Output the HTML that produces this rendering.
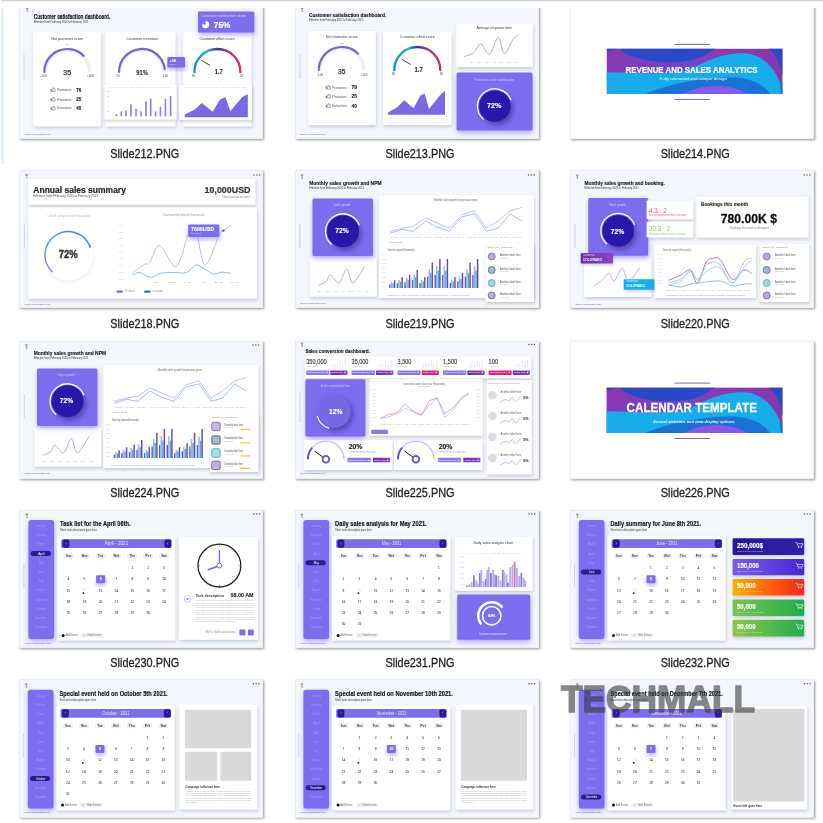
<!DOCTYPE html>
<html><head><meta charset="utf-8"><style>
html,body{margin:0;padding:0;width:823px;height:823px;overflow:hidden;background:#fff}
svg{display:block;font-family:"Liberation Sans",sans-serif}
</style></head><body>
<svg width="823" height="823" viewBox="0 0 823 823">
<rect x="0" y="0" width="823" height="823" fill="#fff"/>
<defs><filter id="ts" x="-5%" y="-5%" width="112%" height="115%"><feDropShadow dx="1.2" dy="1.2" stdDeviation="0.9" flood-color="#000" flood-opacity="0.38"/></filter><filter id="cs" x="-20%" y="-20%" width="140%" height="150%"><feDropShadow dx="0.6" dy="1.8" stdDeviation="1.6" flood-color="#505878" flood-opacity="0.28"/></filter><filter id="ps" x="-30%" y="-30%" width="160%" height="170%"><feDropShadow dx="0.5" dy="2.5" stdDeviation="2.6" flood-color="#7e6cee" flood-opacity="0.55"/></filter><filter id="ds" x="-40%" y="-40%" width="190%" height="190%"><feDropShadow dx="2.2" dy="2.8" stdDeviation="2.6" flood-color="#1a0a60" flood-opacity="0.5"/></filter><filter id="ls" x="-30%" y="-30%" width="160%" height="170%"><feDropShadow dx="0.5" dy="1.5" stdDeviation="1.8" flood-color="#505878" flood-opacity="0.13"/></filter><filter id="bl" x="-2%" y="-2%" width="104%" height="104%"><feGaussianBlur stdDeviation="0.4"/></filter><clipPath id="c212"><rect x="19" y="1" width="244" height="138"/></clipPath><clipPath id="c213"><rect x="295" y="1" width="244" height="138"/></clipPath><clipPath id="c214"><rect x="570" y="1" width="244" height="138"/></clipPath><clipPath id="c218"><rect x="19" y="170" width="244" height="138"/></clipPath><clipPath id="c219"><rect x="295" y="170" width="244" height="138"/></clipPath><clipPath id="c220"><rect x="570" y="170" width="244" height="138"/></clipPath><clipPath id="c224"><rect x="19" y="341" width="244" height="138"/></clipPath><clipPath id="c225"><rect x="295" y="341" width="244" height="138"/></clipPath><clipPath id="c226"><rect x="570" y="341" width="244" height="138"/></clipPath><clipPath id="c230"><rect x="19" y="510" width="244" height="138"/></clipPath><clipPath id="c231"><rect x="295" y="510" width="244" height="138"/></clipPath><clipPath id="c232"><rect x="570" y="510" width="244" height="138"/></clipPath><clipPath id="c233"><rect x="19" y="679.5" width="244" height="138"/></clipPath><clipPath id="c234"><rect x="295" y="679.5" width="244" height="138"/></clipPath><clipPath id="c235"><rect x="570" y="679.5" width="244" height="138"/></clipPath><linearGradient id="gEff" x1="0" y1="0" x2="1" y2="0"><stop offset="0" stop-color="#1a8cae"/><stop offset="0.3" stop-color="#25b3d0"/><stop offset="0.5" stop-color="#3b3480"/><stop offset="0.75" stop-color="#b03a86"/><stop offset="1" stop-color="#c23069"/></linearGradient><linearGradient id="gDon" x1="0" y1="1" x2="1" y2="0"><stop offset="0" stop-color="#b070c0"/><stop offset="0.5" stop-color="#40b0d0"/><stop offset="1" stop-color="#5a70e0"/></linearGradient><linearGradient id="gC1" x1="0" y1="0" x2="1" y2="0"><stop offset="0" stop-color="#2a1890"/><stop offset="1" stop-color="#3020b0"/></linearGradient><linearGradient id="gC2" x1="0" y1="0" x2="1" y2="0"><stop offset="0" stop-color="#7a5ce8"/><stop offset="1" stop-color="#4626d8"/></linearGradient><linearGradient id="gC3" x1="0" y1="0" x2="1" y2="0"><stop offset="0" stop-color="#f7b500"/><stop offset="0.55" stop-color="#ff5a08"/><stop offset="1" stop-color="#f22a1a"/></linearGradient><linearGradient id="gC4" x1="0" y1="0" x2="1" y2="0"><stop offset="0" stop-color="#78c450"/><stop offset="1" stop-color="#24ac4c"/></linearGradient><linearGradient id="gC5" x1="0" y1="0" x2="1" y2="0"><stop offset="0" stop-color="#8cc846"/><stop offset="1" stop-color="#20ac50"/></linearGradient><linearGradient id="gBadgeD" x1="0" y1="0" x2="1" y2="0"><stop offset="0" stop-color="#6a2ea8"/><stop offset="1" stop-color="#8a48c0"/></linearGradient></defs><rect x="19.00" y="1.00" width="244.00" height="138.00" rx="0" fill="#f3f6fa" filter="url(#ts)"/><rect x="19.25" y="1.25" width="243.50" height="137.50" rx="0" fill="none" stroke="#e2e4ea" stroke-width="0.5"/><g clip-path="url(#c212)"><g filter="url(#bl)"><rect x="26.00" y="7.50" width="2.20" height="2.20" rx="0" fill="#9a9aaa" /><rect x="26.70" y="10.50" width="1.20" height="1.40" rx="0" fill="#777" /><text x="33.80" y="18.60" font-size="6.40" font-weight="bold" fill="#141414" stroke="#141414" stroke-width="0.14" textLength="76.50" lengthAdjust="spacingAndGlyphs" >Customer satisfaction dashboard.</text><text x="33.80" y="23.10" font-size="2.70" fill="#333" textLength="54.70" lengthAdjust="spacingAndGlyphs" >Effective from February 2020 to February 2021</text><line x1="24.00" y1="54.60" x2="24.00" y2="79.50" stroke="#7c82a0" stroke-width="0.7" stroke-dasharray="1.2 0.5" opacity="0.6"/><text x="24.70" y="134.74" font-size="2.44" fill="#5b5f80" textLength="25.50" lengthAdjust="spacingAndGlyphs" >www.yourwebsite.com</text><rect x="33.20" y="32.20" width="67.60" height="94.10" rx="0.8" fill="#fff" filter="url(#cs)"/><rect x="105.50" y="32.20" width="70.00" height="94.10" rx="0.8" fill="#fff" filter="url(#cs)"/><rect x="183.20" y="32.20" width="68.40" height="94.10" rx="0.8" fill="#fff" filter="url(#cs)"/><rect x="198.00" y="11.50" width="56.30" height="21.10" rx="1.2" fill="#7e6cee" filter="url(#ps)"/><text x="201.30" y="16.89" font-size="3.31" fill="#d9d2ff" textLength="44.70" lengthAdjust="spacingAndGlyphs" >Customer satisfaction score</text><circle cx="205.60" cy="24.60" r="3.60" fill="#fff" stroke="none" stroke-width="1" /><path d="M205.6,24.6 L205.6,20.8 A3.8,3.8 0 0 0 201.8,24.6 Z" fill="#7e6cee" stroke="none" stroke-width="1" /><text x="213.80" y="27.90" font-size="8.72" font-weight="bold" fill="#fff" stroke="#fff" stroke-width="0.19" textLength="16.50" lengthAdjust="spacingAndGlyphs" >75%</text><text x="51.20" y="39.50" font-size="3.05" fill="#3a3a50" textLength="32.00" lengthAdjust="spacingAndGlyphs" >Net promoter score</text><path d="M45.10,72.00 A22.20,22.20 0 0 1 89.50,72.00" fill="none" stroke="#efeff1" stroke-width="3.8" /><path d="M44.30,72.00 A23.00,23.00 0 0 1 83.56,55.74" fill="none" stroke="#7665d0" stroke-width="2.2" stroke-linecap="round"/><text x="65.84" y="44.74" font-size="2.44" fill="#666" >40</text><text x="63.32" y="74.60" font-size="6.98" fill="#333" stroke="#333" stroke-width="0.25" >35</text><text x="40.36" y="77.18" font-size="3.14" fill="#444" >-100</text><text x="86.96" y="77.18" font-size="3.14" fill="#444" >+100</text><rect x="50.60" y="89.10" width="1.00" height="2.40" rx="0" fill="#555" /><path d="M52,91.5 l0,-2.2 l1.1,-1.6 l0.7,0.2 l-0.2,1.2 l1.5,0 l0,2.6 z" fill="none" stroke="#555" stroke-width="0.5" /><text x="56.90" y="91.19" font-size="3.31" fill="#555" textLength="14.60" lengthAdjust="spacingAndGlyphs" >Promoters</text><text x="76.30" y="91.80" font-size="4.80" font-weight="bold" fill="#222" stroke="#222" stroke-width="0.11" textLength="5.00" lengthAdjust="spacingAndGlyphs" >76</text><rect x="50.60" y="98.60" width="1.00" height="2.40" rx="0" fill="#555" /><path d="M52,101.0 l0,-2.2 l1.1,-1.6 l0.7,0.2 l-0.2,1.2 l1.5,0 l0,2.6 z" fill="none" stroke="#555" stroke-width="0.5" /><text x="56.90" y="100.69" font-size="3.31" fill="#555" textLength="14.60" lengthAdjust="spacingAndGlyphs" >Passive</text><text x="76.30" y="101.30" font-size="4.80" font-weight="bold" fill="#222" stroke="#222" stroke-width="0.11" textLength="5.00" lengthAdjust="spacingAndGlyphs" >25</text><rect x="50.60" y="107.40" width="1.00" height="2.40" rx="0" fill="#555" /><path d="M52,109.8 l0,-2.2 l1.1,-1.6 l0.7,0.2 l-0.2,1.2 l1.5,0 l0,2.6 z" fill="none" stroke="#555" stroke-width="0.5" /><text x="56.90" y="109.49" font-size="3.31" fill="#555" textLength="14.60" lengthAdjust="spacingAndGlyphs" >Detractors</text><text x="76.30" y="110.10" font-size="4.80" font-weight="bold" fill="#222" stroke="#222" stroke-width="0.11" textLength="5.00" lengthAdjust="spacingAndGlyphs" >40</text><text x="126.20" y="39.50" font-size="3.05" fill="#3a3a50" textLength="31.60" lengthAdjust="spacingAndGlyphs" >Customer retention</text><path d="M119.80,72.00 A22.20,22.20 0 0 1 164.20,72.00" fill="none" stroke="#efeff1" stroke-width="3.8" /><path d="M119.00,72.00 A23.00,23.00 0 0 1 164.78,68.80" fill="none" stroke="#7665d0" stroke-width="2.2" stroke-linecap="round"/><text x="136.25" y="74.80" font-size="6.40" font-weight="bold" fill="#333" stroke="#333" stroke-width="0.14" textLength="11.50" lengthAdjust="spacingAndGlyphs" >91%</text><text x="116.35" y="77.27" font-size="2.97" fill="#444" >50</text><text x="163.03" y="77.27" font-size="2.97" fill="#444" >100</text><rect x="167.40" y="57.00" width="17.60" height="10.40" rx="1.2" fill="#7e6cee" filter="url(#ps)"/><text x="169.50" y="62.00" font-size="3.78" font-weight="bold" fill="#fff" textLength="6.50" lengthAdjust="spacingAndGlyphs" >+98</text><text x="169.50" y="65.12" font-size="2.09" fill="#d9d2ff" textLength="6.00" lengthAdjust="spacingAndGlyphs" >retained</text><rect x="104.40" y="84.60" width="72.20" height="35.00" rx="0.8" fill="#fff" filter="url(#cs)"/><text x="110.00" y="88.22" font-size="2.09" fill="#c8c8d0" textLength="60.00" lengthAdjust="spacingAndGlyphs" >Jan  Feb  Mar  Apr  May  Jun  Jul  Aug  Sep  Oct  Nov  Dec</text><text x="107.00" y="91.50" font-size="1.74" fill="#c0c0c8" textLength="3.00" lengthAdjust="spacingAndGlyphs" >200</text><text x="107.00" y="96.70" font-size="1.74" fill="#c0c0c8" textLength="3.00" lengthAdjust="spacingAndGlyphs" >200</text><text x="107.00" y="101.90" font-size="1.74" fill="#c0c0c8" textLength="3.00" lengthAdjust="spacingAndGlyphs" >200</text><text x="107.00" y="106.90" font-size="1.74" fill="#c0c0c8" textLength="3.00" lengthAdjust="spacingAndGlyphs" >200</text><text x="107.00" y="112.10" font-size="1.74" fill="#c0c0c8" textLength="3.00" lengthAdjust="spacingAndGlyphs" >200</text><rect x="115.60" y="114.20" width="1.60" height="2.10" rx="0" fill="#8a7fd6" /><rect x="120.50" y="111.40" width="1.60" height="4.90" rx="0" fill="#8a7fd6" /><rect x="125.20" y="110.30" width="1.60" height="6.00" rx="0" fill="#8a7fd6" /><rect x="130.20" y="104.30" width="1.60" height="12.00" rx="0" fill="#8a7fd6" /><rect x="135.20" y="109.00" width="1.60" height="7.30" rx="0" fill="#8a7fd6" /><rect x="140.20" y="111.40" width="1.60" height="4.90" rx="0" fill="#8a7fd6" /><rect x="145.20" y="101.40" width="1.60" height="14.90" rx="0" fill="#8a7fd6" /><rect x="149.90" y="98.80" width="1.60" height="17.50" rx="0" fill="#8a7fd6" /><rect x="154.80" y="111.40" width="1.60" height="4.90" rx="0" fill="#8a7fd6" /><rect x="159.60" y="106.50" width="1.60" height="9.80" rx="0" fill="#8a7fd6" /><rect x="164.60" y="98.80" width="1.60" height="17.50" rx="0" fill="#8a7fd6" /><rect x="169.80" y="96.10" width="1.60" height="20.20" rx="0" fill="#8a7fd6" /><text x="199.50" y="39.50" font-size="3.05" fill="#3a3a50" textLength="35.00" lengthAdjust="spacingAndGlyphs" >Customer effort score</text><path d="M194.40,72.00 A23.00,23.00 0 0 1 240.40,72.00" fill="none" stroke="url(#gEff)" stroke-width="2.4" stroke-linecap="round"/><line x1="201.30" y1="60.40" x2="210.00" y2="65.30" stroke="#333" stroke-width="0.9" /><text x="214.80" y="73.50" font-size="6.40" font-weight="bold" fill="#333" stroke="#333" stroke-width="0.14" textLength="8.00" lengthAdjust="spacingAndGlyphs" >1.7</text><text x="191.85" y="77.27" font-size="2.97" fill="#444" >90</text><text x="240.05" y="77.27" font-size="2.97" fill="#444" >30</text><rect x="179.40" y="85.00" width="72.60" height="35.00" rx="0.8" fill="#fff" filter="url(#cs)"/><text x="184.00" y="88.41" font-size="1.92" fill="#c8c8d0" textLength="62.00" lengthAdjust="spacingAndGlyphs" >Jan Feb Mar Apr May Jun Jul Aug Sep Oct Nov Dec</text><polyline points="184.80,114.50 194.70,109.60 201.80,103.00 212.70,111.80 219.90,99.80 225.30,97.00 230.30,111.30 242.30,97.00 247.80,94.30 247.80,117.30 184.80,117.30" fill="#7a68e6" stroke="none" stroke-width="1" stroke="#7a68e6" stroke-width="0.6" stroke-linejoin="round"/></g></g><rect x="295.00" y="1.00" width="244.00" height="138.00" rx="0" fill="#f3f6fa" filter="url(#ts)"/><rect x="295.25" y="1.25" width="243.50" height="137.50" rx="0" fill="none" stroke="#e2e4ea" stroke-width="0.5"/><g clip-path="url(#c213)"><g filter="url(#bl)"><rect x="301.00" y="7.50" width="2.20" height="2.20" rx="0" fill="#9a9aaa" /><rect x="301.70" y="10.50" width="1.20" height="1.40" rx="0" fill="#777" /><text x="309.00" y="17.10" font-size="6.25" font-weight="bold" fill="#141414" stroke="#141414" stroke-width="0.14" textLength="77.20" lengthAdjust="spacingAndGlyphs" >Customer satisfaction dashboard.</text><text x="309.00" y="21.10" font-size="2.70" fill="#333" textLength="54.00" lengthAdjust="spacingAndGlyphs" >Effective from February 2020 to February 2021</text><line x1="300.00" y1="54.70" x2="300.00" y2="78.80" stroke="#7c82a0" stroke-width="0.7" stroke-dasharray="1.2 0.5" opacity="0.6"/><text x="300.00" y="134.94" font-size="2.44" fill="#5b5f80" textLength="25.50" lengthAdjust="spacingAndGlyphs" >www.yourwebsite.com</text><rect x="308.40" y="31.00" width="67.40" height="94.00" rx="0.8" fill="#fff" filter="url(#cs)"/><rect x="383.00" y="31.70" width="68.60" height="93.30" rx="0.8" fill="#fff" filter="url(#cs)"/><text x="325.70" y="38.20" font-size="3.20" fill="#4a4080" textLength="32.20" lengthAdjust="spacingAndGlyphs" >Net promoter score</text><path d="M319.60,70.00 A22.20,22.20 0 0 1 364.00,70.00" fill="none" stroke="#efeff1" stroke-width="3.8" /><path d="M318.80,70.00 A23.00,23.00 0 0 1 358.06,53.74" fill="none" stroke="#7665d0" stroke-width="2.2" stroke-linecap="round"/><text x="339.91" y="43.63" font-size="2.27" fill="#666" >100</text><text x="338.08" y="73.50" font-size="6.69" fill="#333" stroke="#333" stroke-width="0.25" >35</text><text x="317.03" y="75.87" font-size="2.97" fill="#444" >-100</text><text x="360.66" y="75.87" font-size="2.97" fill="#444" >+100</text><rect x="325.80" y="86.60" width="1.00" height="2.40" rx="0" fill="#555" /><path d="M327.2,89.0 l0,-2.2 l1.1,-1.6 l0.7,0.2 l-0.2,1.2 l1.5,0 l0,2.6 z" fill="none" stroke="#555" stroke-width="0.5" /><text x="332.00" y="88.79" font-size="3.31" fill="#555" textLength="14.70" lengthAdjust="spacingAndGlyphs" >Promoters</text><text x="351.50" y="89.30" font-size="4.65" font-weight="bold" fill="#222" stroke="#222" stroke-width="0.10" textLength="5.50" lengthAdjust="spacingAndGlyphs" >79</text><rect x="325.80" y="95.60" width="1.00" height="2.40" rx="0" fill="#555" /><path d="M327.2,98.0 l0,-2.2 l1.1,-1.6 l0.7,0.2 l-0.2,1.2 l1.5,0 l0,2.6 z" fill="none" stroke="#555" stroke-width="0.5" /><text x="332.00" y="97.79" font-size="3.31" fill="#555" textLength="14.70" lengthAdjust="spacingAndGlyphs" >Passive</text><text x="351.50" y="98.30" font-size="4.65" font-weight="bold" fill="#222" stroke="#222" stroke-width="0.10" textLength="5.50" lengthAdjust="spacingAndGlyphs" >25</text><rect x="325.80" y="104.90" width="1.00" height="2.40" rx="0" fill="#555" /><path d="M327.2,107.3 l0,-2.2 l1.1,-1.6 l0.7,0.2 l-0.2,1.2 l1.5,0 l0,2.6 z" fill="none" stroke="#555" stroke-width="0.5" /><text x="332.00" y="107.09" font-size="3.31" fill="#555" textLength="14.70" lengthAdjust="spacingAndGlyphs" >Detractors</text><text x="351.50" y="107.60" font-size="4.65" font-weight="bold" fill="#222" stroke="#222" stroke-width="0.10" textLength="5.50" lengthAdjust="spacingAndGlyphs" >40</text><text x="399.80" y="37.90" font-size="3.05" fill="#3a3a50" textLength="35.00" lengthAdjust="spacingAndGlyphs" >Customer effort score</text><path d="M394.30,70.00 A23.00,23.00 0 0 1 440.30,70.00" fill="none" stroke="url(#gEff)" stroke-width="2.4" stroke-linecap="round"/><line x1="402.00" y1="59.40" x2="410.70" y2="64.50" stroke="#333" stroke-width="0.9" /><text x="414.45" y="72.00" font-size="6.69" font-weight="bold" fill="#333" stroke="#333" stroke-width="0.15" textLength="8.50" lengthAdjust="spacingAndGlyphs" >1.7</text><text x="391.85" y="75.17" font-size="2.97" fill="#444" >90</text><text x="439.65" y="75.17" font-size="2.97" fill="#444" >30</text><polyline points="388.10,112.60 396.90,107.50 404.20,100.20 413.60,108.20 420.20,95.80 424.60,93.60 429.00,109.00 440.60,94.40 445.00,90.70 445.00,114.80 388.10,114.80" fill="#7a68e6" stroke="none" stroke-width="1" stroke="#7a68e6" stroke-width="0.6" stroke-linejoin="round"/><text x="388.00" y="118.61" font-size="1.92" fill="#c8c8d0" textLength="57.00" lengthAdjust="spacingAndGlyphs" >Jan Feb Mar Apr May Jun Jul Aug Sep Oct Nov Dec</text><rect x="456.30" y="23.40" width="76.70" height="43.50" rx="0.8" fill="#fff" filter="url(#cs)"/><text x="476.45" y="29.20" font-size="2.91" fill="#333" textLength="35.50" lengthAdjust="spacingAndGlyphs" >Average response time</text><path d="M464.20,56.60 C465.78,55.95 470.93,54.80 473.70,52.70 C476.47,50.60 478.17,43.75 480.80,44.00 C483.43,44.25 486.60,55.27 489.50,54.20 C492.40,53.13 495.70,37.73 498.20,37.60 C500.70,37.47 502.00,53.13 504.50,53.40 C507.00,53.67 510.83,42.35 513.20,39.20 C515.57,36.05 517.78,35.28 518.70,34.50" fill="none" stroke="#a09ac0" stroke-width="0.8" /><text x="469.00" y="62.60" font-size="1.74" fill="#c8c8d0" textLength="50.00" lengthAdjust="spacingAndGlyphs" >1   2   3   4   5   6   7</text><rect x="456.60" y="72.40" width="75.90" height="58.00" rx="1.5" fill="#7e6cee" filter="url(#ps)"/><text x="474.20" y="81.39" font-size="3.31" fill="#d6ceff" textLength="40.00" lengthAdjust="spacingAndGlyphs" >Promoter score satisfaction</text><circle cx="494.80" cy="106.20" r="15.80" fill="#2b16aa" stroke="none" stroke-width="1" filter="url(#ds)"/><path d="M510.93,99.68 A17.40,17.40 0 1 0 483.16,119.13" fill="none" stroke="#fff" stroke-width="1.3" stroke-linecap="round"/><text x="487.10" y="107.90" font-size="6.69" font-weight="bold" fill="#fff" stroke="#fff" stroke-width="0.15" textLength="14.20" lengthAdjust="spacingAndGlyphs" >72%</text></g></g><rect x="570.00" y="1.00" width="244.00" height="138.00" rx="0" fill="#fff" filter="url(#ts)"/><rect x="570.25" y="1.25" width="243.50" height="137.50" rx="0" fill="none" stroke="#e2e4ea" stroke-width="0.5"/><g clip-path="url(#c214)"><g filter="url(#bl)"><line x1="674.40" y1="44.40" x2="709.80" y2="44.40" stroke="#6a6385" stroke-width="1" /><line x1="674.40" y1="99.40" x2="709.80" y2="99.40" stroke="#8068a8" stroke-width="1" /><linearGradient id="gpb48" x1="0" y1="0" x2="1" y2="0"><stop offset="0" stop-color="#8a36b4"/><stop offset="0.45" stop-color="#6a48c8"/><stop offset="0.6" stop-color="#8a3ab8"/><stop offset="1" stop-color="#8438b0"/></linearGradient><rect x="606.80" y="48.80" width="175.60" height="44.90" rx="0" fill="url(#gpb48)" /><path d="M619.09,48.80 C634.90,63.17 680.55,66.76 703.38,55.98 L715.67,48.80 Z" fill="#2b48c8" stroke="none" stroke-width="1" /><path d="M768.35,48.80 L782.40,48.80 L782.40,75.74 C780.64,66.76 777.13,54.19 768.35,48.80 Z" fill="#2b48c8" stroke="none" stroke-width="1" /><path d="M606.80,48.80 L619.09,48.80 L606.80,51.49 Z" fill="#2b48c8" stroke="none" stroke-width="1" /><path d="M606.80,72.15 C633.14,72.15 662.99,75.74 687.58,70.35 C705.14,62.27 719.18,53.29 743.77,53.29 C764.84,54.19 777.13,71.25 782.40,89.21 L782.40,93.70 L606.80,93.70 Z" fill="#18adea" stroke="none" stroke-width="1" /><path d="M645.43,93.70 C670.02,83.82 703.38,76.64 736.74,77.54 C756.06,79.33 764.84,86.97 770.11,93.70 Z" fill="#1a72d4" stroke="none" stroke-width="1" /><path d="M779.77,82.47 L782.40,81.13 L782.40,93.70 L780.64,93.70 Z" fill="#1a72d4" stroke="none" stroke-width="1" /><path d="M684.06,93.70 C701.62,83.82 729.72,82.92 747.28,93.70 Z" fill="#8a5ae6" stroke="none" stroke-width="1" /><text x="625.50" y="72.50" font-size="8.87" font-weight="bold" fill="#fff" stroke="#fff" stroke-width="0.20" textLength="131.90" lengthAdjust="spacingAndGlyphs" >REVENUE AND SALES ANALYTICS</text><text x="659.50" y="80.10" font-size="3.63" fill="#e8f8ff" textLength="67.50" lengthAdjust="spacingAndGlyphs" >Fully animated and unique design</text></g></g><rect x="19.00" y="170.00" width="244.00" height="138.00" rx="0" fill="#f3f6fa" filter="url(#ts)"/><rect x="19.25" y="170.25" width="243.50" height="137.50" rx="0" fill="none" stroke="#e2e4ea" stroke-width="0.5"/><g clip-path="url(#c218)"><g filter="url(#bl)"><rect x="25.50" y="173.80" width="2.20" height="2.20" rx="0" fill="#9a9aaa" /><rect x="26.20" y="176.80" width="1.20" height="1.40" rx="0" fill="#777" /><circle cx="254.00" cy="174.90" r="0.75" fill="#555" stroke="none" stroke-width="1" /><circle cx="256.80" cy="174.90" r="0.75" fill="#555" stroke="none" stroke-width="1" /><circle cx="259.60" cy="174.90" r="0.75" fill="#555" stroke="none" stroke-width="1" /><rect x="28.20" y="179.00" width="227.20" height="25.70" rx="0.8" fill="#fff" filter="url(#cs)"/><text x="33.30" y="192.70" font-size="9.30" font-weight="bold" fill="#222" stroke="#222" stroke-width="0.20" textLength="92.60" lengthAdjust="spacingAndGlyphs" >Annual sales summary</text><text x="33.30" y="197.39" font-size="3.31" fill="#555" textLength="64.90" lengthAdjust="spacingAndGlyphs" >Effective from February 2020 to February 2021</text><text x="204.60" y="192.80" font-size="9.88" font-weight="bold" fill="#333" stroke="#333" stroke-width="0.22" textLength="45.90" lengthAdjust="spacingAndGlyphs" >10,000USD</text><text x="221.80" y="197.69" font-size="3.31" fill="#888" textLength="28.20" lengthAdjust="spacingAndGlyphs" >Total annual income</text><rect x="28.20" y="207.50" width="228.80" height="91.20" rx="0.8" fill="#fff" filter="url(#cs)"/><line x1="24.60" y1="223.40" x2="24.60" y2="248.40" stroke="#7c82a0" stroke-width="0.7" stroke-dasharray="1.2 0.5" opacity="0.6"/><text x="24.70" y="304.74" font-size="2.44" fill="#5b5f80" textLength="25.50" lengthAdjust="spacingAndGlyphs" >www.yourwebsite.com</text><text x="47.50" y="216.59" font-size="3.31" fill="#b8b8c4" textLength="43.00" lengthAdjust="spacingAndGlyphs" >Overall salespersons(in thousands)</text><circle cx="68.30" cy="255.50" r="25.00" fill="#fff" stroke="none" stroke-width="1" filter="url(#ls)"/><path d="M52.11,271.76 A23.30,23.30 0 1 1 90.05,246.65" fill="none" stroke="url(#gDon)" stroke-width="1.5" stroke-linecap="round"/><circle cx="90.00" cy="246.70" r="1.00" fill="#6a70d8" stroke="none" stroke-width="1" /><text x="58.80" y="258.40" font-size="10.17" font-weight="bold" fill="#333" stroke="#333" stroke-width="0.40" textLength="19.00" lengthAdjust="spacingAndGlyphs" >72%</text><text x="162.80" y="215.78" font-size="3.14" fill="#999" textLength="41.80" lengthAdjust="spacingAndGlyphs" >Total monthly sales(in thousands)</text><text x="118.60" y="225.90" font-size="1.74" fill="#c0c0cc" textLength="4.50" lengthAdjust="spacingAndGlyphs" >10.000</text><text x="118.60" y="232.60" font-size="1.74" fill="#c0c0cc" textLength="4.50" lengthAdjust="spacingAndGlyphs" >10.000</text><text x="118.60" y="239.30" font-size="1.74" fill="#c0c0cc" textLength="4.50" lengthAdjust="spacingAndGlyphs" >10.000</text><text x="118.60" y="246.00" font-size="1.74" fill="#c0c0cc" textLength="4.50" lengthAdjust="spacingAndGlyphs" >10.000</text><text x="118.60" y="252.70" font-size="1.74" fill="#c0c0cc" textLength="4.50" lengthAdjust="spacingAndGlyphs" >10.000</text><text x="118.60" y="259.40" font-size="1.74" fill="#c0c0cc" textLength="4.50" lengthAdjust="spacingAndGlyphs" >10.000</text><text x="118.60" y="266.10" font-size="1.74" fill="#c0c0cc" textLength="4.50" lengthAdjust="spacingAndGlyphs" >10.000</text><text x="118.60" y="272.80" font-size="1.74" fill="#c0c0cc" textLength="4.50" lengthAdjust="spacingAndGlyphs" >10.000</text><text x="118.60" y="279.50" font-size="1.74" fill="#c0c0cc" textLength="4.50" lengthAdjust="spacingAndGlyphs" >10.000</text><path d="M132.50,272.50 C134.55,271.13 141.93,265.95 144.80,264.30 C147.67,262.65 147.25,265.75 149.70,262.60 C152.15,259.45 155.13,244.72 159.50,245.40 C163.87,246.08 171.25,268.20 175.90,266.70 C180.55,265.20 184.88,242.85 187.40,236.40 C189.92,229.95 189.37,228.00 191.00,228.00 C192.63,228.00 194.80,230.23 197.20,236.40 C199.60,242.57 201.72,265.27 205.40,265.00 C209.08,264.73 216.30,240.53 219.30,234.80 C222.30,229.07 221.48,232.17 223.40,230.60 C225.32,229.03 229.57,226.27 230.80,225.40" fill="none" stroke="#b2a8e8" stroke-width="0.8" /><path d="M132.50,275.00 C133.72,274.58 136.80,272.10 139.80,272.50 C142.80,272.90 147.08,277.27 150.50,277.40 C153.92,277.53 156.33,274.12 160.30,273.30 C164.27,272.48 169.92,272.63 174.30,272.50 C178.68,272.37 183.05,273.75 186.60,272.50 C190.15,271.25 192.73,265.68 195.60,265.00 C198.47,264.32 200.80,266.88 203.80,268.40 C206.80,269.92 210.60,273.48 213.60,274.10 C216.60,274.72 218.93,272.23 221.80,272.10 C224.67,271.97 229.30,273.10 230.80,273.30" fill="none" stroke="#80b8d4" stroke-width="0.9" /><rect x="188.20" y="224.60" width="31.10" height="12.30" rx="1" fill="#7e6cee" filter="url(#ps)"/><text x="191.00" y="231.00" font-size="5.81" font-weight="bold" fill="#fff" stroke="#fff" stroke-width="0.13" textLength="23.00" lengthAdjust="spacingAndGlyphs" >7690USD</text><text x="191.00" y="234.43" font-size="2.27" fill="#e0dcff" textLength="10.00" lengthAdjust="spacingAndGlyphs" >Total sales</text><circle cx="223.40" cy="230.60" r="1.20" fill="#5a48c0" stroke="none" stroke-width="1" /><text x="150.00" y="282.62" font-size="2.09" fill="#c8c8d4" textLength="90.00" lengthAdjust="spacingAndGlyphs" >1         2         3         4         5         6</text><rect x="116.40" y="290.40" width="6.60" height="2.40" rx="1.2" fill="#7a6ae0" /><text x="125.00" y="292.45" font-size="2.62" fill="#999" textLength="10.00" lengthAdjust="spacingAndGlyphs" >Product</text><rect x="144.00" y="290.40" width="6.50" height="2.40" rx="1.2" fill="#2a78b8" /><text x="152.50" y="292.45" font-size="2.62" fill="#999" textLength="11.00" lengthAdjust="spacingAndGlyphs" >Last year</text></g></g><rect x="295.00" y="170.00" width="244.00" height="138.00" rx="0" fill="#f3f6fa" filter="url(#ts)"/><rect x="295.25" y="170.25" width="243.50" height="137.50" rx="0" fill="none" stroke="#e2e4ea" stroke-width="0.5"/><g clip-path="url(#c219)"><g filter="url(#bl)"><rect x="300.90" y="174.20" width="2.20" height="2.20" rx="0" fill="#9a9aaa" /><rect x="301.60" y="177.20" width="1.20" height="1.40" rx="0" fill="#777" /><circle cx="528.50" cy="175.00" r="0.75" fill="#555" stroke="none" stroke-width="1" /><circle cx="531.30" cy="175.00" r="0.75" fill="#555" stroke="none" stroke-width="1" /><circle cx="534.10" cy="175.00" r="0.75" fill="#555" stroke="none" stroke-width="1" /><text x="309.20" y="185.00" font-size="6.10" font-weight="bold" fill="#141414" stroke="#141414" stroke-width="0.13" textLength="72.30" lengthAdjust="spacingAndGlyphs" >Monthly sales growth and NPM</text><text x="309.20" y="189.11" font-size="2.70" fill="#333" textLength="54.70" lengthAdjust="spacingAndGlyphs" >Effective from February 2020 to February 2021</text><line x1="299.80" y1="224.50" x2="299.80" y2="248.20" stroke="#7c82a0" stroke-width="0.7" stroke-dasharray="1.2 0.5" opacity="0.6"/><text x="300.00" y="304.34" font-size="2.44" fill="#5b5f80" textLength="25.50" lengthAdjust="spacingAndGlyphs" >www.yourwebsite.com</text><rect x="309.80" y="258.00" width="66.80" height="38.80" rx="0.8" fill="#fff" filter="url(#cs)"/><path d="M318.30,285.30 C319.62,284.68 324.17,283.32 326.20,281.60 C328.23,279.88 328.37,274.78 330.50,275.00 C332.63,275.22 336.27,283.92 339.00,282.90 C341.73,281.88 344.58,268.90 346.90,268.90 C349.22,268.90 349.97,283.30 352.90,282.90 C355.83,282.50 362.57,269.23 364.50,266.50" fill="none" stroke="#9890c8" stroke-width="0.7" /><text x="317.00" y="291.60" font-size="1.74" fill="#c8c8d0" textLength="52.00" lengthAdjust="spacingAndGlyphs" >1    2    3    4    5    6    7</text><rect x="312.50" y="198.40" width="60.50" height="57.70" rx="1.5" fill="#7e6cee" filter="url(#ps)"/><text x="333.50" y="205.87" font-size="2.97" fill="#d6ceff" textLength="17.00" lengthAdjust="spacingAndGlyphs" >Sales growth</text><circle cx="343.00" cy="231.30" r="16.00" fill="#2b16aa" stroke="none" stroke-width="1" filter="url(#ds)"/><path d="M359.23,224.74 A17.50,17.50 0 1 0 331.29,244.31" fill="none" stroke="#fff" stroke-width="1.3" stroke-linecap="round"/><text x="335.30" y="233.30" font-size="7.56" font-weight="bold" fill="#fff" stroke="#fff" stroke-width="0.17" textLength="13.40" lengthAdjust="spacingAndGlyphs" >72%</text><rect x="379.00" y="195.20" width="155.00" height="102.70" rx="0.8" fill="#fff" filter="url(#cs)"/><text x="433.60" y="201.26" font-size="2.79" fill="#666" textLength="44.00" lengthAdjust="spacingAndGlyphs" >Monthly sales growth for previous years</text><polyline points="389.50,231.30 401.90,228.20 413.20,226.20 425.60,217.90 437.00,223.00 449.40,228.20 461.80,214.80 474.20,210.70 486.60,228.20 497.90,221.00 510.30,210.70 521.70,207.60" fill="none" stroke="#b8aee6" stroke-width="0.8" stroke-linejoin="round"/><polyline points="389.50,233.40 401.90,229.30 413.20,231.30 425.60,221.00 437.00,227.20 449.40,231.30 461.80,216.90 474.20,213.80 486.60,231.30 497.90,228.20 510.30,213.80 521.70,221.00" fill="none" stroke="#88b0dc" stroke-width="0.8" stroke-linejoin="round"/><text x="389.60" y="238.01" font-size="1.92" fill="#c0c0cc" textLength="132.00" lengthAdjust="spacingAndGlyphs" >Jan   Feb   Mar   Apr   May   Jun   Jul   Aug   Sep   Oct   Nov   Dec</text><text x="389.00" y="242.72" font-size="2.09" fill="#a0a0b0" textLength="14.00" lengthAdjust="spacingAndGlyphs" >2020   2021</text><text x="387.40" y="251.46" font-size="2.79" fill="#666" textLength="27.00" lengthAdjust="spacingAndGlyphs" >Sales by regions(thousands)</text><text x="381.50" y="254.99" font-size="1.57" fill="#c0c0cc" textLength="4.00" lengthAdjust="spacingAndGlyphs" >10.000</text><text x="381.50" y="259.59" font-size="1.57" fill="#c0c0cc" textLength="4.00" lengthAdjust="spacingAndGlyphs" >10.000</text><text x="381.50" y="264.19" font-size="1.57" fill="#c0c0cc" textLength="4.00" lengthAdjust="spacingAndGlyphs" >10.000</text><text x="381.50" y="268.79" font-size="1.57" fill="#c0c0cc" textLength="4.00" lengthAdjust="spacingAndGlyphs" >10.000</text><text x="381.50" y="273.39" font-size="1.57" fill="#c0c0cc" textLength="4.00" lengthAdjust="spacingAndGlyphs" >10.000</text><text x="381.50" y="277.99" font-size="1.57" fill="#c0c0cc" textLength="4.00" lengthAdjust="spacingAndGlyphs" >10.000</text><text x="381.50" y="282.59" font-size="1.57" fill="#c0c0cc" textLength="4.00" lengthAdjust="spacingAndGlyphs" >10.000</text><text x="381.50" y="287.19" font-size="1.57" fill="#c0c0cc" textLength="4.00" lengthAdjust="spacingAndGlyphs" >10.000</text><rect x="389.20" y="284.54" width="1.45" height="3.46" rx="0" fill="#4a66cc" /><rect x="390.75" y="282.23" width="1.45" height="5.77" rx="0" fill="#98b4ec" /><rect x="392.30" y="283.38" width="1.45" height="4.62" rx="0" fill="#58a8dc" /><rect x="393.85" y="280.30" width="1.45" height="7.70" rx="0" fill="#6a4aa8" /><rect x="396.75" y="283.14" width="1.45" height="4.86" rx="0" fill="#4a66cc" /><rect x="398.30" y="279.90" width="1.45" height="8.10" rx="0" fill="#98b4ec" /><rect x="399.85" y="281.52" width="1.45" height="6.48" rx="0" fill="#58a8dc" /><rect x="401.40" y="277.20" width="1.45" height="10.80" rx="0" fill="#6a4aa8" /><rect x="404.30" y="282.01" width="1.45" height="5.99" rx="0" fill="#4a66cc" /><rect x="405.85" y="278.02" width="1.45" height="9.98" rx="0" fill="#98b4ec" /><rect x="407.40" y="280.02" width="1.45" height="7.98" rx="0" fill="#58a8dc" /><rect x="408.95" y="274.70" width="1.45" height="13.30" rx="0" fill="#6a4aa8" /><rect x="411.85" y="279.90" width="1.45" height="8.10" rx="0" fill="#4a66cc" /><rect x="413.40" y="274.50" width="1.45" height="13.50" rx="0" fill="#98b4ec" /><rect x="414.95" y="277.20" width="1.45" height="10.80" rx="0" fill="#58a8dc" /><rect x="416.50" y="270.00" width="1.45" height="18.00" rx="0" fill="#6a4aa8" /><rect x="419.40" y="283.14" width="1.45" height="4.86" rx="0" fill="#4a66cc" /><rect x="420.95" y="279.90" width="1.45" height="8.10" rx="0" fill="#98b4ec" /><rect x="422.50" y="281.52" width="1.45" height="6.48" rx="0" fill="#58a8dc" /><rect x="424.05" y="277.20" width="1.45" height="10.80" rx="0" fill="#6a4aa8" /><rect x="426.95" y="276.62" width="1.45" height="11.38" rx="0" fill="#4a66cc" /><rect x="428.50" y="269.02" width="1.45" height="18.98" rx="0" fill="#98b4ec" /><rect x="430.05" y="272.82" width="1.45" height="15.18" rx="0" fill="#58a8dc" /><rect x="431.60" y="262.70" width="1.45" height="25.30" rx="0" fill="#6a4aa8" /><rect x="434.50" y="274.95" width="1.45" height="13.05" rx="0" fill="#4a66cc" /><rect x="436.05" y="266.25" width="1.45" height="21.75" rx="0" fill="#98b4ec" /><rect x="437.60" y="270.60" width="1.45" height="17.40" rx="0" fill="#58a8dc" /><rect x="439.15" y="259.00" width="1.45" height="29.00" rx="0" fill="#6a4aa8" /><rect x="442.05" y="274.95" width="1.45" height="13.05" rx="0" fill="#4a66cc" /><rect x="443.60" y="266.25" width="1.45" height="21.75" rx="0" fill="#98b4ec" /><rect x="445.15" y="270.60" width="1.45" height="17.40" rx="0" fill="#58a8dc" /><rect x="446.70" y="259.00" width="1.45" height="29.00" rx="0" fill="#6a4aa8" /><rect x="449.60" y="283.14" width="1.45" height="4.86" rx="0" fill="#4a66cc" /><rect x="451.15" y="279.90" width="1.45" height="8.10" rx="0" fill="#98b4ec" /><rect x="452.70" y="281.52" width="1.45" height="6.48" rx="0" fill="#58a8dc" /><rect x="454.25" y="277.20" width="1.45" height="10.80" rx="0" fill="#6a4aa8" /><rect x="457.15" y="281.25" width="1.45" height="6.75" rx="0" fill="#4a66cc" /><rect x="458.70" y="276.75" width="1.45" height="11.25" rx="0" fill="#98b4ec" /><rect x="460.25" y="279.00" width="1.45" height="9.00" rx="0" fill="#58a8dc" /><rect x="461.80" y="273.00" width="1.45" height="15.00" rx="0" fill="#6a4aa8" /><rect x="464.70" y="276.62" width="1.45" height="11.38" rx="0" fill="#4a66cc" /><rect x="466.25" y="269.02" width="1.45" height="18.98" rx="0" fill="#98b4ec" /><rect x="467.80" y="272.82" width="1.45" height="15.18" rx="0" fill="#58a8dc" /><rect x="469.35" y="262.70" width="1.45" height="25.30" rx="0" fill="#6a4aa8" /><rect x="472.25" y="274.95" width="1.45" height="13.05" rx="0" fill="#4a66cc" /><rect x="473.80" y="266.25" width="1.45" height="21.75" rx="0" fill="#98b4ec" /><rect x="475.35" y="270.60" width="1.45" height="17.40" rx="0" fill="#58a8dc" /><rect x="476.90" y="259.00" width="1.45" height="29.00" rx="0" fill="#6a4aa8" /><text x="386.50" y="295.52" font-size="2.09" fill="#9a9ab0" textLength="83.00" lengthAdjust="spacingAndGlyphs" >▪ Southern Asia   ▪ Southern Africa   ▪ Northern Europe   ▪ Southern South</text><rect x="485.50" y="244.00" width="48.50" height="58.00" rx="0.8" fill="#fff" filter="url(#cs)"/><text x="487.60" y="247.63" font-size="2.27" fill="#888" textLength="24.80" lengthAdjust="spacingAndGlyphs" >NPM by regions</text><circle cx="491.70" cy="256.50" r="3.50" fill="#b8a8dc" stroke="#7a5aa8" stroke-width="0.7" /><text x="500.00" y="256.06" font-size="2.79" fill="#555" textLength="20.70" lengthAdjust="spacingAndGlyphs" >Another label here</text><text x="500.00" y="258.72" font-size="2.09" fill="#aaa" textLength="9.00" lengthAdjust="spacingAndGlyphs" >10% more</text><circle cx="491.70" cy="270.00" r="3.50" fill="#a8b4cc" stroke="#3a5a80" stroke-width="0.7" /><text x="500.00" y="269.56" font-size="2.79" fill="#555" textLength="20.70" lengthAdjust="spacingAndGlyphs" >Another label here</text><text x="500.00" y="272.22" font-size="2.09" fill="#aaa" textLength="9.00" lengthAdjust="spacingAndGlyphs" >10% more</text><circle cx="491.70" cy="283.00" r="3.50" fill="#a8d4dc" stroke="#3aa0b8" stroke-width="0.7" /><text x="500.00" y="282.56" font-size="2.79" fill="#555" textLength="20.70" lengthAdjust="spacingAndGlyphs" >Another label here</text><text x="500.00" y="285.22" font-size="2.09" fill="#aaa" textLength="9.00" lengthAdjust="spacingAndGlyphs" >10% more</text><circle cx="491.70" cy="295.40" r="3.50" fill="#baaadc" stroke="#6a4a98" stroke-width="0.7" /><text x="500.00" y="294.96" font-size="2.79" fill="#555" textLength="20.70" lengthAdjust="spacingAndGlyphs" >Another label here</text><text x="500.00" y="297.62" font-size="2.09" fill="#aaa" textLength="9.00" lengthAdjust="spacingAndGlyphs" >10% more</text></g></g><rect x="570.00" y="170.00" width="244.00" height="138.00" rx="0" fill="#f3f6fa" filter="url(#ts)"/><rect x="570.25" y="170.25" width="243.50" height="137.50" rx="0" fill="none" stroke="#e2e4ea" stroke-width="0.5"/><g clip-path="url(#c220)"><g filter="url(#bl)"><rect x="576.10" y="174.50" width="2.20" height="2.20" rx="0" fill="#9a9aaa" /><rect x="576.80" y="177.50" width="1.20" height="1.40" rx="0" fill="#777" /><circle cx="804.30" cy="175.10" r="0.75" fill="#555" stroke="none" stroke-width="1" /><circle cx="807.10" cy="175.10" r="0.75" fill="#555" stroke="none" stroke-width="1" /><circle cx="809.90" cy="175.10" r="0.75" fill="#555" stroke="none" stroke-width="1" /><text x="584.50" y="185.10" font-size="5.81" font-weight="bold" fill="#141414" stroke="#141414" stroke-width="0.13" textLength="80.30" lengthAdjust="spacingAndGlyphs" >Monthly sales growth and booking.</text><text x="584.50" y="189.11" font-size="2.70" fill="#333" textLength="54.20" lengthAdjust="spacingAndGlyphs" >Effective from February 2020 to February 2021</text><line x1="575.00" y1="224.50" x2="575.00" y2="248.20" stroke="#7c82a0" stroke-width="0.7" stroke-dasharray="1.2 0.5" opacity="0.6"/><text x="575.50" y="304.54" font-size="2.44" fill="#5b5f80" textLength="25.50" lengthAdjust="spacingAndGlyphs" >www.yourwebsite.com</text><rect x="584.20" y="258.00" width="67.20" height="38.90" rx="0.8" fill="#fff" filter="url(#cs)"/><path d="M593.70,285.80 C595.02,285.00 599.10,283.10 601.60,281.00 C604.10,278.90 606.60,273.20 608.70,273.20 C610.80,273.20 611.97,281.80 614.20,281.00 C616.43,280.20 619.72,268.40 622.10,268.40 C624.48,268.40 625.47,281.25 628.50,281.00 C631.53,280.75 638.33,269.25 640.30,266.90" fill="none" stroke="#a098d0" stroke-width="0.7" /><rect x="588.20" y="198.00" width="60.00" height="57.80" rx="1.5" fill="#7e6cee" filter="url(#ps)"/><text x="608.90" y="206.17" font-size="2.97" fill="#d6ceff" textLength="17.00" lengthAdjust="spacingAndGlyphs" >Sales growth</text><circle cx="618.20" cy="230.80" r="15.80" fill="#2b16aa" stroke="none" stroke-width="1" filter="url(#ds)"/><path d="M634.33,224.28 A17.40,17.40 0 1 0 606.56,243.73" fill="none" stroke="#fff" stroke-width="1.3" stroke-linecap="round"/><text x="610.70" y="233.80" font-size="7.56" font-weight="bold" fill="#fff" stroke="#fff" stroke-width="0.17" textLength="13.40" lengthAdjust="spacingAndGlyphs" >72%</text><rect x="646.60" y="200.40" width="46.60" height="18.90" rx="0.8" fill="#fff" filter="url(#cs)"/><text x="649.00" y="212.50" font-size="7.27" fill="#e04a78" textLength="17.70" lengthAdjust="spacingAndGlyphs" >4.3 : 2</text><text x="649.00" y="216.15" font-size="2.62" fill="#e86a90" textLength="37.00" lengthAdjust="spacingAndGlyphs" >Bookings/cancellations ratio in this region</text><rect x="646.60" y="221.70" width="46.60" height="15.80" rx="0.8" fill="#fff" filter="url(#cs)"/><text x="649.00" y="231.10" font-size="7.27" fill="#8ec850" textLength="21.30" lengthAdjust="spacingAndGlyphs" >20.3 : 2</text><text x="649.00" y="234.95" font-size="2.62" fill="#9ad070" textLength="37.00" lengthAdjust="spacingAndGlyphs" >Bookings/cancellations ratio in this region</text><rect x="696.30" y="196.40" width="112.20" height="41.10" rx="0.8" fill="#fff" filter="url(#cs)"/><text x="701.00" y="205.90" font-size="5.67" font-weight="bold" fill="#222" stroke="#222" stroke-width="0.12" textLength="47.10" lengthAdjust="spacingAndGlyphs" >Bookings this month</text><text x="720.80" y="223.30" font-size="12.65" font-weight="bold" fill="#111" stroke="#111" stroke-width="0.28" textLength="56.10" lengthAdjust="spacingAndGlyphs" >780.00K $</text><text x="730.30" y="228.65" font-size="2.62" fill="#888" textLength="38.70" lengthAdjust="spacingAndGlyphs" >Bookings this month in all regions</text><rect x="580.70" y="253.00" width="32.30" height="10.40" rx="1" fill="url(#gBadgeD)" filter="url(#cs)"/><text x="583.00" y="256.25" font-size="2.62" fill="#d8c8f0" textLength="12.00" lengthAdjust="spacingAndGlyphs" >Colorado region</text><text x="583.00" y="260.80" font-size="3.78" font-weight="bold" fill="#fff" textLength="19.00" lengthAdjust="spacingAndGlyphs" >COLORADO</text><rect x="623.70" y="279.20" width="32.40" height="10.60" rx="1" fill="#18aeea" filter="url(#cs)"/><text x="626.00" y="282.45" font-size="2.62" fill="#d8f4ff" textLength="12.00" lengthAdjust="spacingAndGlyphs" >Colorado region</text><text x="626.00" y="287.00" font-size="3.78" font-weight="bold" fill="#fff" textLength="19.00" lengthAdjust="spacingAndGlyphs" >COLORADO</text><rect x="654.50" y="244.50" width="101.50" height="53.40" rx="0.8" fill="#fff" filter="url(#cs)"/><text x="662.40" y="251.46" font-size="2.79" fill="#777" textLength="28.90" lengthAdjust="spacingAndGlyphs" >Sales by regions(thousands)</text><text x="657.50" y="255.49" font-size="1.57" fill="#c0c0cc" textLength="4.00" lengthAdjust="spacingAndGlyphs" >10.000</text><text x="657.50" y="259.09" font-size="1.57" fill="#c0c0cc" textLength="4.00" lengthAdjust="spacingAndGlyphs" >10.000</text><text x="657.50" y="262.69" font-size="1.57" fill="#c0c0cc" textLength="4.00" lengthAdjust="spacingAndGlyphs" >10.000</text><text x="657.50" y="266.29" font-size="1.57" fill="#c0c0cc" textLength="4.00" lengthAdjust="spacingAndGlyphs" >10.000</text><text x="657.50" y="269.89" font-size="1.57" fill="#c0c0cc" textLength="4.00" lengthAdjust="spacingAndGlyphs" >10.000</text><text x="657.50" y="273.49" font-size="1.57" fill="#c0c0cc" textLength="4.00" lengthAdjust="spacingAndGlyphs" >10.000</text><text x="657.50" y="277.09" font-size="1.57" fill="#c0c0cc" textLength="4.00" lengthAdjust="spacingAndGlyphs" >10.000</text><text x="657.50" y="280.69" font-size="1.57" fill="#c0c0cc" textLength="4.00" lengthAdjust="spacingAndGlyphs" >10.000</text><text x="657.50" y="284.29" font-size="1.57" fill="#c0c0cc" textLength="4.00" lengthAdjust="spacingAndGlyphs" >10.000</text><path d="M668.60,280.30 C670.67,279.43 677.38,276.82 681.00,275.10 C684.62,273.38 687.55,268.62 690.30,270.00 C693.05,271.38 694.92,284.62 697.50,283.40 C700.08,282.18 703.38,266.83 705.80,262.70 C708.22,258.57 709.60,259.12 712.00,258.60 C714.40,258.08 716.77,256.15 720.20,259.60 C723.63,263.05 728.63,277.57 732.60,279.30 C736.57,281.03 740.72,270.87 744.00,270.00 C747.28,269.13 750.92,273.42 752.30,274.10" fill="none" stroke="#9a70c0" stroke-width="0.9" /><path d="M668.60,283.00 C670.67,282.33 677.38,280.83 681.00,279.00 C684.62,277.17 687.55,271.83 690.30,272.00 C693.05,272.17 694.92,281.00 697.50,280.00 C700.08,279.00 703.38,269.00 705.80,266.00 C708.22,263.00 709.60,262.17 712.00,262.00 C714.40,261.83 716.77,261.50 720.20,265.00 C723.63,268.50 728.63,283.50 732.60,283.00 C736.57,282.50 740.72,266.17 744.00,262.00 C747.28,257.83 750.92,258.67 752.30,258.00" fill="none" stroke="#c4aee4" stroke-width="0.9" /><path d="M668.60,285.00 C670.67,284.33 677.38,283.50 681.00,281.00 C684.62,278.50 687.55,270.33 690.30,270.00 C693.05,269.67 694.92,278.67 697.50,279.00 C700.08,279.33 703.38,273.83 705.80,272.00 C708.22,270.17 709.60,268.67 712.00,268.00 C714.40,267.33 716.77,265.50 720.20,268.00 C723.63,270.50 728.63,283.17 732.60,283.00 C736.57,282.83 740.72,270.83 744.00,267.00 C747.28,263.17 750.92,261.17 752.30,260.00" fill="none" stroke="#88d4e4" stroke-width="0.9" /><path d="M668.60,285.00 C670.67,285.33 677.38,287.17 681.00,287.00 C684.62,286.83 687.55,284.67 690.30,284.00 C693.05,283.33 692.52,283.50 697.50,283.00 C702.48,282.50 714.35,280.50 720.20,281.00 C726.05,281.50 728.63,285.50 732.60,286.00 C736.57,286.50 740.72,284.33 744.00,284.00 C747.28,283.67 750.92,284.00 752.30,284.00" fill="none" stroke="#7aaad0" stroke-width="0.8" /><text x="665.00" y="291.21" font-size="1.92" fill="#c0c0cc" textLength="86.00" lengthAdjust="spacingAndGlyphs" >Jan Feb Mar Apr May Jun Jul Aug Sep Oct Nov Dec</text><text x="665.00" y="295.52" font-size="2.09" fill="#9a9ab0" textLength="80.00" lengthAdjust="spacingAndGlyphs" >▪ Southern Asia  ▪ Southern Africa  ▪ Northern Europe  ▪ Southern South</text><rect x="760.50" y="244.00" width="48.50" height="58.00" rx="0.8" fill="#fff" filter="url(#cs)"/><text x="762.50" y="247.63" font-size="2.27" fill="#888" textLength="24.80" lengthAdjust="spacingAndGlyphs" >NPM by regions</text><circle cx="766.70" cy="256.50" r="3.50" fill="#b8a8dc" stroke="#7a5aa8" stroke-width="0.7" /><text x="775.00" y="256.06" font-size="2.79" fill="#555" textLength="20.70" lengthAdjust="spacingAndGlyphs" >Another label here</text><text x="775.00" y="258.72" font-size="2.09" fill="#aaa" textLength="9.00" lengthAdjust="spacingAndGlyphs" >10% more</text><circle cx="766.70" cy="270.00" r="3.50" fill="#a8b4cc" stroke="#3a5a80" stroke-width="0.7" /><text x="775.00" y="269.56" font-size="2.79" fill="#555" textLength="20.70" lengthAdjust="spacingAndGlyphs" >Another label here</text><text x="775.00" y="272.22" font-size="2.09" fill="#aaa" textLength="9.00" lengthAdjust="spacingAndGlyphs" >10% more</text><circle cx="766.70" cy="283.00" r="3.50" fill="#a8d4dc" stroke="#3aa0b8" stroke-width="0.7" /><text x="775.00" y="282.56" font-size="2.79" fill="#555" textLength="20.70" lengthAdjust="spacingAndGlyphs" >Another label here</text><text x="775.00" y="285.22" font-size="2.09" fill="#aaa" textLength="9.00" lengthAdjust="spacingAndGlyphs" >10% more</text><circle cx="766.70" cy="295.40" r="3.50" fill="#baaadc" stroke="#6a4a98" stroke-width="0.7" /><text x="775.00" y="294.96" font-size="2.79" fill="#555" textLength="20.70" lengthAdjust="spacingAndGlyphs" >Another label here</text><text x="775.00" y="297.62" font-size="2.09" fill="#aaa" textLength="9.00" lengthAdjust="spacingAndGlyphs" >10% more</text></g></g><rect x="19.00" y="341.00" width="244.00" height="138.00" rx="0" fill="#f3f6fa" filter="url(#ts)"/><rect x="19.25" y="341.25" width="243.50" height="137.50" rx="0" fill="none" stroke="#e2e4ea" stroke-width="0.5"/><g clip-path="url(#c224)"><g filter="url(#bl)"><rect x="25.40" y="344.20" width="2.20" height="2.20" rx="0" fill="#9a9aaa" /><rect x="26.10" y="347.20" width="1.20" height="1.40" rx="0" fill="#777" /><circle cx="253.00" cy="345.00" r="0.75" fill="#555" stroke="none" stroke-width="1" /><circle cx="255.80" cy="345.00" r="0.75" fill="#555" stroke="none" stroke-width="1" /><circle cx="258.60" cy="345.00" r="0.75" fill="#555" stroke="none" stroke-width="1" /><text x="33.70" y="355.00" font-size="6.10" font-weight="bold" fill="#141414" stroke="#141414" stroke-width="0.13" textLength="72.30" lengthAdjust="spacingAndGlyphs" >Monthly sales growth and NPM</text><text x="33.70" y="359.11" font-size="2.70" fill="#333" textLength="54.70" lengthAdjust="spacingAndGlyphs" >Effective from February 2020 to February 2021</text><line x1="24.30" y1="394.50" x2="24.30" y2="418.20" stroke="#7c82a0" stroke-width="0.7" stroke-dasharray="1.2 0.5" opacity="0.6"/><text x="24.50" y="474.34" font-size="2.44" fill="#5b5f80" textLength="25.50" lengthAdjust="spacingAndGlyphs" >www.yourwebsite.com</text><rect x="34.30" y="428.00" width="66.80" height="38.80" rx="0.8" fill="#fff" filter="url(#cs)"/><path d="M42.80,455.30 C44.12,454.68 48.67,453.32 50.70,451.60 C52.73,449.88 52.87,444.78 55.00,445.00 C57.13,445.22 60.77,453.92 63.50,452.90 C66.23,451.88 69.08,438.90 71.40,438.90 C73.72,438.90 74.47,453.30 77.40,452.90 C80.33,452.50 87.07,439.23 89.00,436.50" fill="none" stroke="#9890c8" stroke-width="0.7" /><text x="41.50" y="461.60" font-size="1.74" fill="#c8c8d0" textLength="52.00" lengthAdjust="spacingAndGlyphs" >1    2    3    4    5    6    7</text><rect x="37.00" y="368.40" width="60.50" height="57.70" rx="1.5" fill="#7e6cee" filter="url(#ps)"/><text x="58.00" y="375.87" font-size="2.97" fill="#d6ceff" textLength="17.00" lengthAdjust="spacingAndGlyphs" >Sales growth</text><circle cx="67.50" cy="401.30" r="16.00" fill="#2b16aa" stroke="none" stroke-width="1" filter="url(#ds)"/><path d="M83.73,394.74 A17.50,17.50 0 1 0 55.79,414.31" fill="none" stroke="#fff" stroke-width="1.3" stroke-linecap="round"/><text x="59.80" y="403.30" font-size="7.56" font-weight="bold" fill="#fff" stroke="#fff" stroke-width="0.17" textLength="13.40" lengthAdjust="spacingAndGlyphs" >72%</text><rect x="103.50" y="365.20" width="155.00" height="102.70" rx="0.8" fill="#fff" filter="url(#cs)"/><text x="158.10" y="371.26" font-size="2.79" fill="#666" textLength="44.00" lengthAdjust="spacingAndGlyphs" >Monthly sales growth for previous years</text><polyline points="114.00,401.30 126.40,398.20 137.70,396.20 150.10,387.90 161.50,393.00 173.90,398.20 186.30,384.80 198.70,380.70 211.10,398.20 222.40,391.00 234.80,380.70 246.20,377.60" fill="none" stroke="#b8aee6" stroke-width="0.8" stroke-linejoin="round"/><polyline points="114.00,403.40 126.40,399.30 137.70,401.30 150.10,391.00 161.50,397.20 173.90,401.30 186.30,386.90 198.70,383.80 211.10,401.30 222.40,398.20 234.80,383.80 246.20,391.00" fill="none" stroke="#88b0dc" stroke-width="0.8" stroke-linejoin="round"/><text x="114.10" y="408.01" font-size="1.92" fill="#c0c0cc" textLength="132.00" lengthAdjust="spacingAndGlyphs" >Jan   Feb   Mar   Apr   May   Jun   Jul   Aug   Sep   Oct   Nov   Dec</text><text x="113.50" y="412.72" font-size="2.09" fill="#a0a0b0" textLength="14.00" lengthAdjust="spacingAndGlyphs" >2020   2021</text><text x="111.90" y="421.46" font-size="2.79" fill="#666" textLength="27.00" lengthAdjust="spacingAndGlyphs" >Sales by regions(thousands)</text><text x="106.00" y="424.99" font-size="1.57" fill="#c0c0cc" textLength="4.00" lengthAdjust="spacingAndGlyphs" >10.000</text><text x="106.00" y="429.59" font-size="1.57" fill="#c0c0cc" textLength="4.00" lengthAdjust="spacingAndGlyphs" >10.000</text><text x="106.00" y="434.19" font-size="1.57" fill="#c0c0cc" textLength="4.00" lengthAdjust="spacingAndGlyphs" >10.000</text><text x="106.00" y="438.79" font-size="1.57" fill="#c0c0cc" textLength="4.00" lengthAdjust="spacingAndGlyphs" >10.000</text><text x="106.00" y="443.39" font-size="1.57" fill="#c0c0cc" textLength="4.00" lengthAdjust="spacingAndGlyphs" >10.000</text><text x="106.00" y="447.99" font-size="1.57" fill="#c0c0cc" textLength="4.00" lengthAdjust="spacingAndGlyphs" >10.000</text><text x="106.00" y="452.59" font-size="1.57" fill="#c0c0cc" textLength="4.00" lengthAdjust="spacingAndGlyphs" >10.000</text><text x="106.00" y="457.19" font-size="1.57" fill="#c0c0cc" textLength="4.00" lengthAdjust="spacingAndGlyphs" >10.000</text><rect x="113.70" y="454.54" width="1.45" height="3.46" rx="0" fill="#4a66cc" /><rect x="115.25" y="452.23" width="1.45" height="5.77" rx="0" fill="#98b4ec" /><rect x="116.80" y="453.38" width="1.45" height="4.62" rx="0" fill="#58a8dc" /><rect x="118.35" y="450.30" width="1.45" height="7.70" rx="0" fill="#6a4aa8" /><rect x="121.25" y="453.14" width="1.45" height="4.86" rx="0" fill="#4a66cc" /><rect x="122.80" y="449.90" width="1.45" height="8.10" rx="0" fill="#98b4ec" /><rect x="124.35" y="451.52" width="1.45" height="6.48" rx="0" fill="#58a8dc" /><rect x="125.90" y="447.20" width="1.45" height="10.80" rx="0" fill="#6a4aa8" /><rect x="128.80" y="452.01" width="1.45" height="5.99" rx="0" fill="#4a66cc" /><rect x="130.35" y="448.02" width="1.45" height="9.98" rx="0" fill="#98b4ec" /><rect x="131.90" y="450.02" width="1.45" height="7.98" rx="0" fill="#58a8dc" /><rect x="133.45" y="444.70" width="1.45" height="13.30" rx="0" fill="#6a4aa8" /><rect x="136.35" y="449.90" width="1.45" height="8.10" rx="0" fill="#4a66cc" /><rect x="137.90" y="444.50" width="1.45" height="13.50" rx="0" fill="#98b4ec" /><rect x="139.45" y="447.20" width="1.45" height="10.80" rx="0" fill="#58a8dc" /><rect x="141.00" y="440.00" width="1.45" height="18.00" rx="0" fill="#6a4aa8" /><rect x="143.90" y="453.14" width="1.45" height="4.86" rx="0" fill="#4a66cc" /><rect x="145.45" y="449.90" width="1.45" height="8.10" rx="0" fill="#98b4ec" /><rect x="147.00" y="451.52" width="1.45" height="6.48" rx="0" fill="#58a8dc" /><rect x="148.55" y="447.20" width="1.45" height="10.80" rx="0" fill="#6a4aa8" /><rect x="151.45" y="446.62" width="1.45" height="11.38" rx="0" fill="#4a66cc" /><rect x="153.00" y="439.02" width="1.45" height="18.98" rx="0" fill="#98b4ec" /><rect x="154.55" y="442.82" width="1.45" height="15.18" rx="0" fill="#58a8dc" /><rect x="156.10" y="432.70" width="1.45" height="25.30" rx="0" fill="#6a4aa8" /><rect x="159.00" y="444.95" width="1.45" height="13.05" rx="0" fill="#4a66cc" /><rect x="160.55" y="436.25" width="1.45" height="21.75" rx="0" fill="#98b4ec" /><rect x="162.10" y="440.60" width="1.45" height="17.40" rx="0" fill="#58a8dc" /><rect x="163.65" y="429.00" width="1.45" height="29.00" rx="0" fill="#6a4aa8" /><rect x="166.55" y="444.95" width="1.45" height="13.05" rx="0" fill="#4a66cc" /><rect x="168.10" y="436.25" width="1.45" height="21.75" rx="0" fill="#98b4ec" /><rect x="169.65" y="440.60" width="1.45" height="17.40" rx="0" fill="#58a8dc" /><rect x="171.20" y="429.00" width="1.45" height="29.00" rx="0" fill="#6a4aa8" /><rect x="174.10" y="453.14" width="1.45" height="4.86" rx="0" fill="#4a66cc" /><rect x="175.65" y="449.90" width="1.45" height="8.10" rx="0" fill="#98b4ec" /><rect x="177.20" y="451.52" width="1.45" height="6.48" rx="0" fill="#58a8dc" /><rect x="178.75" y="447.20" width="1.45" height="10.80" rx="0" fill="#6a4aa8" /><rect x="181.65" y="451.25" width="1.45" height="6.75" rx="0" fill="#4a66cc" /><rect x="183.20" y="446.75" width="1.45" height="11.25" rx="0" fill="#98b4ec" /><rect x="184.75" y="449.00" width="1.45" height="9.00" rx="0" fill="#58a8dc" /><rect x="186.30" y="443.00" width="1.45" height="15.00" rx="0" fill="#6a4aa8" /><rect x="189.20" y="446.62" width="1.45" height="11.38" rx="0" fill="#4a66cc" /><rect x="190.75" y="439.02" width="1.45" height="18.98" rx="0" fill="#98b4ec" /><rect x="192.30" y="442.82" width="1.45" height="15.18" rx="0" fill="#58a8dc" /><rect x="193.85" y="432.70" width="1.45" height="25.30" rx="0" fill="#6a4aa8" /><rect x="196.75" y="444.95" width="1.45" height="13.05" rx="0" fill="#4a66cc" /><rect x="198.30" y="436.25" width="1.45" height="21.75" rx="0" fill="#98b4ec" /><rect x="199.85" y="440.60" width="1.45" height="17.40" rx="0" fill="#58a8dc" /><rect x="201.40" y="429.00" width="1.45" height="29.00" rx="0" fill="#6a4aa8" /><text x="111.00" y="465.52" font-size="2.09" fill="#9a9ab0" textLength="83.00" lengthAdjust="spacingAndGlyphs" >▪ Southern Asia   ▪ Southern Africa   ▪ Northern Europe   ▪ Southern South</text><rect x="210.00" y="414.00" width="48.50" height="58.00" rx="0.8" fill="#fff" filter="url(#cs)"/><text x="212.10" y="417.63" font-size="2.27" fill="#888" textLength="24.80" lengthAdjust="spacingAndGlyphs" >NPM by regions</text><rect x="211.80" y="422.30" width="8.40" height="8.40" rx="1.5" fill="#c4b8e4" stroke="#8a62b8" stroke-width="0.9"/><text x="224.20" y="425.66" font-size="2.79" fill="#555" textLength="19.10" lengthAdjust="spacingAndGlyphs" >Dropship label here</text><text x="224.20" y="428.42" font-size="2.09" fill="#aaa" textLength="9.00" lengthAdjust="spacingAndGlyphs" >10% more</text><rect x="240.30" y="428.70" width="10.00" height="1.40" rx="0.6" fill="#f2c650" /><rect x="211.80" y="435.80" width="8.40" height="8.40" rx="1.5" fill="#a8b8d0" stroke="#3a5a88" stroke-width="0.9"/><text x="224.20" y="439.16" font-size="2.79" fill="#555" textLength="19.10" lengthAdjust="spacingAndGlyphs" >Dropship label here</text><text x="224.20" y="441.92" font-size="2.09" fill="#aaa" textLength="9.00" lengthAdjust="spacingAndGlyphs" >10% more</text><rect x="240.30" y="442.20" width="10.00" height="1.40" rx="0.6" fill="#f2c650" /><rect x="211.80" y="448.80" width="8.40" height="8.40" rx="1.5" fill="#b4dce4" stroke="#40aac0" stroke-width="0.9"/><text x="224.20" y="452.16" font-size="2.79" fill="#555" textLength="19.10" lengthAdjust="spacingAndGlyphs" >Dropship label here</text><text x="224.20" y="454.92" font-size="2.09" fill="#aaa" textLength="9.00" lengthAdjust="spacingAndGlyphs" >10% more</text><rect x="240.30" y="455.20" width="10.00" height="1.40" rx="0.6" fill="#f2c650" /><rect x="211.80" y="461.20" width="8.40" height="8.40" rx="1.5" fill="#c0b0e0" stroke="#7a52a8" stroke-width="0.9"/><text x="224.20" y="464.56" font-size="2.79" fill="#555" textLength="19.10" lengthAdjust="spacingAndGlyphs" >Dropship label here</text><text x="224.20" y="467.32" font-size="2.09" fill="#aaa" textLength="9.00" lengthAdjust="spacingAndGlyphs" >10% more</text><rect x="240.30" y="467.60" width="10.00" height="1.40" rx="0.6" fill="#f2c650" /></g></g><rect x="295.00" y="341.00" width="244.00" height="138.00" rx="0" fill="#f3f6fa" filter="url(#ts)"/><rect x="295.25" y="341.25" width="243.50" height="137.50" rx="0" fill="none" stroke="#e2e4ea" stroke-width="0.5"/><g clip-path="url(#c225)"><g filter="url(#bl)"><rect x="301.00" y="342.50" width="2.20" height="2.20" rx="0" fill="#9a9aaa" /><rect x="301.70" y="345.50" width="1.20" height="1.40" rx="0" fill="#777" /><circle cx="528.80" cy="344.60" r="0.75" fill="#555" stroke="none" stroke-width="1" /><circle cx="531.60" cy="344.60" r="0.75" fill="#555" stroke="none" stroke-width="1" /><circle cx="534.40" cy="344.60" r="0.75" fill="#555" stroke="none" stroke-width="1" /><text x="305.40" y="352.90" font-size="5.67" font-weight="bold" fill="#141414" stroke="#141414" stroke-width="0.12" textLength="64.60" lengthAdjust="spacingAndGlyphs" >Sales conversion dashboard.</text><line x1="300.00" y1="392.00" x2="300.00" y2="422.00" stroke="#7c82a0" stroke-width="0.7" stroke-dasharray="1.2 0.5" opacity="0.6"/><text x="300.00" y="474.34" font-size="2.44" fill="#5b5f80" textLength="25.50" lengthAdjust="spacingAndGlyphs" >www.yourwebsite.com</text><rect x="304.60" y="356.20" width="226.50" height="22.10" rx="0.6" fill="#fff" filter="url(#cs)"/><text x="306.20" y="363.80" font-size="6.54" fill="#333" stroke="#333" stroke-width="0.12" textLength="20.50" lengthAdjust="spacingAndGlyphs" >350,000</text><text x="306.20" y="367.03" font-size="2.27" fill="#bbb" textLength="10.00" lengthAdjust="spacingAndGlyphs" >Total visits</text><rect x="331.70" y="364.50" width="0.80" height="2.50" rx="0" fill="#e4e4ea" /><rect x="334.30" y="363.00" width="0.80" height="4.00" rx="0" fill="#e4e4ea" /><rect x="336.90" y="364.00" width="0.80" height="3.00" rx="0" fill="#e4e4ea" /><rect x="339.50" y="360.50" width="0.80" height="6.50" rx="0" fill="#e4e4ea" /><rect x="342.10" y="362.00" width="0.80" height="5.00" rx="0" fill="#e4e4ea" /><rect x="344.70" y="360.00" width="0.80" height="7.00" rx="0" fill="#e4e4ea" /><line x1="330.70" y1="367.00" x2="346.70" y2="367.00" stroke="#e0e0e6" stroke-width="0.3" /><rect x="306.20" y="370.50" width="23.08" height="4.60" rx="0.5" fill="#8a78e4" /><rect x="330.39" y="370.50" width="17.11" height="4.60" rx="0.5" fill="url(#gBadgeD)" /><text x="307.20" y="373.34" font-size="2.44" fill="#fff" textLength="21.08" lengthAdjust="spacingAndGlyphs" >Conversion 8%  ▲</text><text x="331.39" y="373.34" font-size="2.44" fill="#fff" textLength="15.11" lengthAdjust="spacingAndGlyphs" >Total 7% ▲</text><line x1="349.40" y1="357.00" x2="349.40" y2="377.50" stroke="#ececf0" stroke-width="0.5" /><text x="351.60" y="363.80" font-size="6.54" fill="#333" stroke="#333" stroke-width="0.12" textLength="16.70" lengthAdjust="spacingAndGlyphs" >35,000</text><text x="351.60" y="367.03" font-size="2.27" fill="#bbb" textLength="10.00" lengthAdjust="spacingAndGlyphs" >Total visits</text><rect x="377.60" y="364.50" width="0.80" height="2.50" rx="0" fill="#e4e4ea" /><rect x="380.20" y="363.00" width="0.80" height="4.00" rx="0" fill="#e4e4ea" /><rect x="382.80" y="364.00" width="0.80" height="3.00" rx="0" fill="#e4e4ea" /><rect x="385.40" y="360.50" width="0.80" height="6.50" rx="0" fill="#e4e4ea" /><rect x="388.00" y="362.00" width="0.80" height="5.00" rx="0" fill="#e4e4ea" /><rect x="390.60" y="360.00" width="0.80" height="7.00" rx="0" fill="#e4e4ea" /><line x1="376.60" y1="367.00" x2="392.60" y2="367.00" stroke="#e0e0e6" stroke-width="0.3" /><rect x="351.60" y="370.50" width="23.37" height="4.60" rx="0.5" fill="#8a78e4" /><rect x="376.07" y="370.50" width="17.33" height="4.60" rx="0.5" fill="url(#gBadgeD)" /><text x="352.60" y="373.34" font-size="2.44" fill="#fff" textLength="21.37" lengthAdjust="spacingAndGlyphs" >Conversion 8%  ▲</text><text x="377.07" y="373.34" font-size="2.44" fill="#fff" textLength="15.33" lengthAdjust="spacingAndGlyphs" >Total 7% ▲</text><line x1="395.40" y1="357.00" x2="395.40" y2="377.50" stroke="#ececf0" stroke-width="0.5" /><text x="397.60" y="363.80" font-size="6.54" fill="#333" stroke="#333" stroke-width="0.12" textLength="13.70" lengthAdjust="spacingAndGlyphs" >3,500</text><text x="397.60" y="367.03" font-size="2.27" fill="#bbb" textLength="10.00" lengthAdjust="spacingAndGlyphs" >Total visits</text><rect x="423.00" y="364.50" width="0.80" height="2.50" rx="0" fill="#e4e4ea" /><rect x="425.60" y="363.00" width="0.80" height="4.00" rx="0" fill="#e4e4ea" /><rect x="428.20" y="364.00" width="0.80" height="3.00" rx="0" fill="#e4e4ea" /><rect x="430.80" y="360.50" width="0.80" height="6.50" rx="0" fill="#e4e4ea" /><rect x="433.40" y="362.00" width="0.80" height="5.00" rx="0" fill="#e4e4ea" /><rect x="436.00" y="360.00" width="0.80" height="7.00" rx="0" fill="#e4e4ea" /><line x1="422.00" y1="367.00" x2="438.00" y2="367.00" stroke="#e0e0e6" stroke-width="0.3" /><rect x="397.60" y="370.50" width="23.03" height="4.60" rx="0.5" fill="#8a78e4" /><rect x="421.73" y="370.50" width="17.07" height="4.60" rx="0.5" fill="#e0207a" /><text x="398.60" y="373.34" font-size="2.44" fill="#fff" textLength="21.03" lengthAdjust="spacingAndGlyphs" >Conversion 8%  ▲</text><text x="422.73" y="373.34" font-size="2.44" fill="#fff" textLength="15.07" lengthAdjust="spacingAndGlyphs" >Total 7% ▲</text><line x1="440.80" y1="357.00" x2="440.80" y2="377.50" stroke="#ececf0" stroke-width="0.5" /><text x="443.00" y="363.80" font-size="6.54" fill="#333" stroke="#333" stroke-width="0.12" textLength="14.30" lengthAdjust="spacingAndGlyphs" >1,500</text><text x="443.00" y="367.03" font-size="2.27" fill="#bbb" textLength="10.00" lengthAdjust="spacingAndGlyphs" >Total visits</text><rect x="468.80" y="364.50" width="0.80" height="2.50" rx="0" fill="#e4e4ea" /><rect x="471.40" y="363.00" width="0.80" height="4.00" rx="0" fill="#e4e4ea" /><rect x="474.00" y="364.00" width="0.80" height="3.00" rx="0" fill="#e4e4ea" /><rect x="476.60" y="360.50" width="0.80" height="6.50" rx="0" fill="#e4e4ea" /><rect x="479.20" y="362.00" width="0.80" height="5.00" rx="0" fill="#e4e4ea" /><rect x="481.80" y="360.00" width="0.80" height="7.00" rx="0" fill="#e4e4ea" /><line x1="467.80" y1="367.00" x2="483.80" y2="367.00" stroke="#e0e0e6" stroke-width="0.3" /><rect x="443.00" y="370.50" width="23.26" height="4.60" rx="0.5" fill="#8a78e4" /><rect x="467.36" y="370.50" width="17.24" height="4.60" rx="0.5" fill="url(#gBadgeD)" /><text x="444.00" y="373.34" font-size="2.44" fill="#fff" textLength="21.26" lengthAdjust="spacingAndGlyphs" >Conversion 8%  ▲</text><text x="468.36" y="373.34" font-size="2.44" fill="#fff" textLength="15.24" lengthAdjust="spacingAndGlyphs" >Total 7% ▲</text><line x1="486.40" y1="357.00" x2="486.40" y2="377.50" stroke="#ececf0" stroke-width="0.5" /><text x="488.60" y="363.80" font-size="6.54" fill="#333" stroke="#333" stroke-width="0.12" textLength="9.50" lengthAdjust="spacingAndGlyphs" >100</text><text x="488.60" y="367.03" font-size="2.27" fill="#bbb" textLength="10.00" lengthAdjust="spacingAndGlyphs" >Total visits</text><rect x="514.10" y="364.50" width="0.80" height="2.50" rx="0" fill="#e4e4ea" /><rect x="516.70" y="363.00" width="0.80" height="4.00" rx="0" fill="#e4e4ea" /><rect x="519.30" y="364.00" width="0.80" height="3.00" rx="0" fill="#e4e4ea" /><rect x="521.90" y="360.50" width="0.80" height="6.50" rx="0" fill="#e4e4ea" /><rect x="524.50" y="362.00" width="0.80" height="5.00" rx="0" fill="#e4e4ea" /><rect x="527.10" y="360.00" width="0.80" height="7.00" rx="0" fill="#e4e4ea" /><line x1="513.10" y1="367.00" x2="529.10" y2="367.00" stroke="#e0e0e6" stroke-width="0.3" /><rect x="488.60" y="370.50" width="23.09" height="4.60" rx="0.5" fill="#e0207a" /><rect x="512.79" y="370.50" width="17.11" height="4.60" rx="0.5" fill="url(#gBadgeD)" /><text x="489.60" y="373.34" font-size="2.44" fill="#fff" textLength="21.09" lengthAdjust="spacingAndGlyphs" >Conversion 8%  ▲</text><text x="513.79" y="373.34" font-size="2.44" fill="#fff" textLength="15.11" lengthAdjust="spacingAndGlyphs" >Total 7% ▲</text><rect x="305.40" y="379.30" width="60.00" height="57.20" rx="1.5" fill="#7e6cee" filter="url(#ps)"/><text x="320.70" y="386.66" font-size="2.79" fill="#d6ceff" textLength="29.60" lengthAdjust="spacingAndGlyphs" >Another conversion label here</text><circle cx="334.20" cy="411.50" r="16.30" fill="#7868e4" stroke="none" stroke-width="1" filter="url(#ds)"/><path d="M317.38,416.32 A17.50,17.50 0 0 0 328.79,428.14" fill="none" stroke="#fff" stroke-width="1.2" stroke-linecap="round"/><text x="329.10" y="413.70" font-size="7.27" font-weight="bold" fill="#fff" stroke="#fff" stroke-width="0.16" textLength="13.40" lengthAdjust="spacingAndGlyphs" >12%</text><rect x="369.60" y="378.80" width="113.10" height="57.00" rx="0.8" fill="#fff" filter="url(#cs)"/><text x="403.30" y="384.87" font-size="2.97" fill="#666" textLength="41.80" lengthAdjust="spacingAndGlyphs" >Conversion rate in last year (thousands)</text><text x="418.20" y="387.32" font-size="2.09" fill="#aaa" textLength="12.00" lengthAdjust="spacingAndGlyphs" >2020 vs 2021</text><text x="371.80" y="390.49" font-size="1.57" fill="#c0c0cc" textLength="3.50" lengthAdjust="spacingAndGlyphs" >1000</text><text x="476.50" y="390.49" font-size="1.57" fill="#c0c0cc" textLength="3.00" lengthAdjust="spacingAndGlyphs" >100</text><text x="371.80" y="393.89" font-size="1.57" fill="#c0c0cc" textLength="3.50" lengthAdjust="spacingAndGlyphs" >1000</text><text x="476.50" y="393.89" font-size="1.57" fill="#c0c0cc" textLength="3.00" lengthAdjust="spacingAndGlyphs" >100</text><text x="371.80" y="397.29" font-size="1.57" fill="#c0c0cc" textLength="3.50" lengthAdjust="spacingAndGlyphs" >1000</text><text x="476.50" y="397.29" font-size="1.57" fill="#c0c0cc" textLength="3.00" lengthAdjust="spacingAndGlyphs" >100</text><text x="371.80" y="400.69" font-size="1.57" fill="#c0c0cc" textLength="3.50" lengthAdjust="spacingAndGlyphs" >1000</text><text x="476.50" y="400.69" font-size="1.57" fill="#c0c0cc" textLength="3.00" lengthAdjust="spacingAndGlyphs" >100</text><text x="371.80" y="404.09" font-size="1.57" fill="#c0c0cc" textLength="3.50" lengthAdjust="spacingAndGlyphs" >1000</text><text x="476.50" y="404.09" font-size="1.57" fill="#c0c0cc" textLength="3.00" lengthAdjust="spacingAndGlyphs" >100</text><text x="371.80" y="407.49" font-size="1.57" fill="#c0c0cc" textLength="3.50" lengthAdjust="spacingAndGlyphs" >1000</text><text x="476.50" y="407.49" font-size="1.57" fill="#c0c0cc" textLength="3.00" lengthAdjust="spacingAndGlyphs" >100</text><text x="371.80" y="410.89" font-size="1.57" fill="#c0c0cc" textLength="3.50" lengthAdjust="spacingAndGlyphs" >1000</text><text x="476.50" y="410.89" font-size="1.57" fill="#c0c0cc" textLength="3.00" lengthAdjust="spacingAndGlyphs" >100</text><text x="371.80" y="414.29" font-size="1.57" fill="#c0c0cc" textLength="3.50" lengthAdjust="spacingAndGlyphs" >1000</text><text x="476.50" y="414.29" font-size="1.57" fill="#c0c0cc" textLength="3.00" lengthAdjust="spacingAndGlyphs" >100</text><text x="371.80" y="417.69" font-size="1.57" fill="#c0c0cc" textLength="3.50" lengthAdjust="spacingAndGlyphs" >1000</text><text x="476.50" y="417.69" font-size="1.57" fill="#c0c0cc" textLength="3.00" lengthAdjust="spacingAndGlyphs" >100</text><polyline points="380.20,418.30 388.50,417.00 396.90,413.50 405.20,408.50 412.10,411.00 421.20,415.50 429.50,405.00 437.10,398.00 444.70,417.30 453.10,410.00 461.40,399.00 469.00,394.00" fill="none" stroke="#8ad4ec" stroke-width="0.8" stroke-linejoin="round"/><polyline points="380.20,418.30 388.50,414.50 396.90,413.00 405.20,403.90 412.10,410.70 421.20,415.20 429.50,400.80 437.10,397.80 444.70,413.70 453.10,407.70 461.40,397.80 469.00,392.50" fill="none" stroke="#e888b0" stroke-width="0.8" stroke-linejoin="round"/><text x="379.50" y="424.81" font-size="1.92" fill="#b8b8c4" textLength="90.00" lengthAdjust="spacingAndGlyphs" >Jan  Feb  Mar  Apr  May  Jun  Jul  Aug  Sep  Oct  Nov  Dec</text><rect x="371.20" y="429.70" width="16.70" height="4.20" rx="0.5" fill="#8a78e4" /><rect x="486.90" y="380.20" width="44.90" height="94.30" rx="0.8" fill="#fff" filter="url(#cs)"/><text x="488.20" y="383.94" font-size="2.44" fill="#999" textLength="31.80" lengthAdjust="spacingAndGlyphs" >Conversion by referral channels</text><circle cx="492.40" cy="395.20" r="4.30" fill="#dcdcdc" stroke="none" stroke-width="1" /><text x="500.60" y="393.25" font-size="2.62" fill="#666" textLength="20.80" lengthAdjust="spacingAndGlyphs" >Another label here</text><path d="M499.90,402.30 C500.77,401.87 503.58,399.92 505.10,399.70 C506.62,399.48 507.80,401.32 509.00,401.00 C510.20,400.68 511.22,397.68 512.30,397.80 C513.38,397.92 514.10,401.92 515.50,401.70 C516.90,401.48 519.83,397.37 520.70,396.50" fill="none" stroke="#9a90d8" stroke-width="0.6" /><text x="523.30" y="398.70" font-size="3.78" font-weight="bold" fill="#222" textLength="5.20" lengthAdjust="spacingAndGlyphs" >5%</text><circle cx="492.40" cy="416.00" r="4.30" fill="#dcdcdc" stroke="none" stroke-width="1" /><text x="500.60" y="414.05" font-size="2.62" fill="#666" textLength="20.80" lengthAdjust="spacingAndGlyphs" >Another label here</text><path d="M499.90,423.10 C500.77,422.67 503.58,420.72 505.10,420.50 C506.62,420.28 507.80,422.12 509.00,421.80 C510.20,421.48 511.22,418.48 512.30,418.60 C513.38,418.72 514.10,422.72 515.50,422.50 C516.90,422.28 519.83,418.17 520.70,417.30" fill="none" stroke="#9a90d8" stroke-width="0.6" /><text x="523.30" y="419.50" font-size="3.78" font-weight="bold" fill="#222" textLength="5.20" lengthAdjust="spacingAndGlyphs" >5%</text><circle cx="492.40" cy="437.00" r="4.30" fill="#dcdcdc" stroke="none" stroke-width="1" /><text x="500.60" y="435.05" font-size="2.62" fill="#666" textLength="20.80" lengthAdjust="spacingAndGlyphs" >Another label here</text><path d="M499.90,444.10 C500.77,443.67 503.58,441.72 505.10,441.50 C506.62,441.28 507.80,443.12 509.00,442.80 C510.20,442.48 511.22,439.48 512.30,439.60 C513.38,439.72 514.10,443.72 515.50,443.50 C516.90,443.28 519.83,439.17 520.70,438.30" fill="none" stroke="#9a90d8" stroke-width="0.6" /><text x="523.30" y="440.50" font-size="3.78" font-weight="bold" fill="#222" textLength="5.20" lengthAdjust="spacingAndGlyphs" >5%</text><circle cx="492.40" cy="458.00" r="4.30" fill="#dcdcdc" stroke="none" stroke-width="1" /><text x="500.60" y="456.05" font-size="2.62" fill="#666" textLength="20.80" lengthAdjust="spacingAndGlyphs" >Another label here</text><path d="M499.90,465.10 C500.77,464.67 503.58,462.72 505.10,462.50 C506.62,462.28 507.80,464.12 509.00,463.80 C510.20,463.48 511.22,460.48 512.30,460.60 C513.38,460.72 514.10,464.72 515.50,464.50 C516.90,464.28 519.83,460.17 520.70,459.30" fill="none" stroke="#9a90d8" stroke-width="0.6" /><text x="523.30" y="461.50" font-size="3.78" font-weight="bold" fill="#222" textLength="5.20" lengthAdjust="spacingAndGlyphs" >5%</text><rect x="303.90" y="440.20" width="88.60" height="29.80" rx="0.8" fill="#fff" filter="url(#cs)"/><path d="M307.90,459.30 A18.00,18.00 0 0 1 343.90,459.30" fill="none" stroke="#ccc4f2" stroke-width="1.5" /><path d="M307.90,459.30 A18.00,18.00 0 0 1 312.11,447.73" fill="none" stroke="#6a58d0" stroke-width="2" /><circle cx="325.90" cy="459.30" r="4.60" fill="#e8e4fa" stroke="none" stroke-width="1" opacity="0.7"/><line x1="325.90" y1="459.30" x2="314.50" y2="451.00" stroke="#111" stroke-width="1.0" /><circle cx="325.90" cy="459.30" r="3.30" fill="#fff" stroke="#6a58d4" stroke-width="1.8" /><text x="348.70" y="449.40" font-size="7.27" font-weight="bold" fill="#222" stroke="#222" stroke-width="0.16" textLength="13.60" lengthAdjust="spacingAndGlyphs" >20%</text><text x="348.70" y="453.45" font-size="2.62" fill="#aaa" textLength="27.00" lengthAdjust="spacingAndGlyphs" >Conversion rate description here</text><rect x="347.50" y="457.80" width="23.20" height="4.50" rx="0.5" fill="#8a78e4" /><rect x="373.00" y="457.80" width="17.00" height="4.50" rx="0.5" fill="url(#gBadgeD)" /><text x="348.50" y="460.64" font-size="2.44" fill="#fff" textLength="21.20" lengthAdjust="spacingAndGlyphs" >Conversion 8% ▲</text><text x="374.00" y="460.64" font-size="2.44" fill="#fff" textLength="15.00" lengthAdjust="spacingAndGlyphs" >Total 7% ▲</text><rect x="393.90" y="440.20" width="88.60" height="29.80" rx="0.8" fill="#fff" filter="url(#cs)"/><path d="M397.90,459.30 A18.00,18.00 0 0 1 433.90,459.30" fill="none" stroke="#ccc4f2" stroke-width="1.5" /><path d="M397.90,459.30 A18.00,18.00 0 0 1 402.11,447.73" fill="none" stroke="#6a58d0" stroke-width="2" /><circle cx="415.90" cy="459.30" r="4.60" fill="#e8e4fa" stroke="none" stroke-width="1" opacity="0.7"/><line x1="415.90" y1="459.30" x2="404.50" y2="451.00" stroke="#111" stroke-width="1.0" /><circle cx="415.90" cy="459.30" r="3.30" fill="#fff" stroke="#6a58d4" stroke-width="1.8" /><text x="438.70" y="449.40" font-size="7.27" font-weight="bold" fill="#222" stroke="#222" stroke-width="0.16" textLength="13.60" lengthAdjust="spacingAndGlyphs" >20%</text><text x="438.70" y="453.45" font-size="2.62" fill="#aaa" textLength="27.00" lengthAdjust="spacingAndGlyphs" >Conversion rate description here</text><rect x="438.20" y="457.80" width="22.80" height="4.50" rx="0.5" fill="#8a78e4" /><rect x="463.40" y="457.80" width="17.00" height="4.50" rx="0.5" fill="url(#gBadgeD)" /><text x="439.20" y="460.64" font-size="2.44" fill="#fff" textLength="20.80" lengthAdjust="spacingAndGlyphs" >Conversion 8% ▲</text><text x="464.40" y="460.64" font-size="2.44" fill="#fff" textLength="15.00" lengthAdjust="spacingAndGlyphs" >Total 7% ▲</text></g></g><rect x="570.00" y="341.00" width="244.00" height="138.00" rx="0" fill="#fff" filter="url(#ts)"/><rect x="570.25" y="341.25" width="243.50" height="137.50" rx="0" fill="none" stroke="#e2e4ea" stroke-width="0.5"/><g clip-path="url(#c226)"><g filter="url(#bl)"><line x1="674.40" y1="383.10" x2="709.80" y2="383.10" stroke="#8464b4" stroke-width="1" /><line x1="674.40" y1="438.50" x2="709.80" y2="438.50" stroke="#8464b4" stroke-width="1" /><linearGradient id="gpb387" x1="0" y1="0" x2="1" y2="0"><stop offset="0" stop-color="#8a36b4"/><stop offset="0.45" stop-color="#6a48c8"/><stop offset="0.6" stop-color="#8a3ab8"/><stop offset="1" stop-color="#8438b0"/></linearGradient><rect x="606.60" y="387.70" width="175.80" height="45.30" rx="0" fill="url(#gpb387)" /><path d="M618.91,387.70 C634.73,402.20 680.44,405.82 703.29,394.95 L715.60,387.70 Z" fill="#2b48c8" stroke="none" stroke-width="1" /><path d="M768.34,387.70 L782.40,387.70 L782.40,414.88 C780.64,405.82 777.13,393.14 768.34,387.70 Z" fill="#2b48c8" stroke="none" stroke-width="1" /><path d="M606.60,387.70 L618.91,387.70 L606.60,390.42 Z" fill="#2b48c8" stroke="none" stroke-width="1" /><path d="M606.60,411.26 C632.97,411.26 662.86,414.88 687.47,409.44 C705.05,401.29 719.11,392.23 743.72,392.23 C764.82,393.14 777.13,410.35 782.40,428.47 L782.40,433.00 L606.60,433.00 Z" fill="#18adea" stroke="none" stroke-width="1" /><path d="M645.28,433.00 C669.89,423.03 703.29,415.79 736.69,416.69 C756.03,418.50 764.82,426.20 770.09,433.00 Z" fill="#1a72d4" stroke="none" stroke-width="1" /><path d="M779.76,421.68 L782.40,420.32 L782.40,433.00 L780.64,433.00 Z" fill="#1a72d4" stroke="none" stroke-width="1" /><path d="M683.95,433.00 C701.53,423.03 729.66,422.13 747.24,433.00 Z" fill="#8a5ae6" stroke="none" stroke-width="1" /><text x="626.60" y="412.20" font-size="13.37" font-weight="bold" fill="#fff" stroke="#fff" stroke-width="0.29" textLength="130.40" lengthAdjust="spacingAndGlyphs" >CALENDAR TEMPLATE</text><text x="653.00" y="423.10" font-size="3.78" font-weight="bold" fill="#e8f8ff" textLength="81.40" lengthAdjust="spacingAndGlyphs" font-style="italic">Annual statistics and data display options</text></g></g><rect x="19.00" y="510.00" width="244.00" height="138.00" rx="0" fill="#f3f6fa" filter="url(#ts)"/><rect x="19.25" y="510.25" width="243.50" height="137.50" rx="0" fill="none" stroke="#e2e4ea" stroke-width="0.5"/><g clip-path="url(#c230)"><g filter="url(#bl)"><rect x="25.80" y="513.50" width="2.20" height="2.20" rx="0" fill="#9a9aaa" /><rect x="26.50" y="516.50" width="1.20" height="1.40" rx="0" fill="#777" /><circle cx="254.00" cy="514.00" r="0.75" fill="#555" stroke="none" stroke-width="1" /><circle cx="256.80" cy="514.00" r="0.75" fill="#555" stroke="none" stroke-width="1" /><circle cx="259.60" cy="514.00" r="0.75" fill="#555" stroke="none" stroke-width="1" /><line x1="24.00" y1="563.80" x2="24.00" y2="588.00" stroke="#7c82a0" stroke-width="0.7" stroke-dasharray="1.2 0.5" opacity="0.6"/><text x="25.10" y="643.74" font-size="2.44" fill="#5b5f80" textLength="25.50" lengthAdjust="spacingAndGlyphs" >www.yourwebsite.com</text><rect x="28.40" y="520.00" width="25.70" height="118.90" rx="2.6" fill="#7e6cee" filter="url(#ps)"/><text x="36.57" y="527.02" font-size="2.97" fill="#a598f6" textLength="9.45" lengthAdjust="spacingAndGlyphs" >January</text><text x="36.05" y="536.22" font-size="2.97" fill="#a598f6" textLength="10.50" lengthAdjust="spacingAndGlyphs" >February</text><text x="37.62" y="545.42" font-size="2.97" fill="#a598f6" textLength="7.35" lengthAdjust="spacingAndGlyphs" >March</text><rect x="30.60" y="551.10" width="20.20" height="5.00" rx="2.5" fill="#2a1a8a" /><text x="38.15" y="554.68" font-size="3.14" fill="#fff" textLength="6.30" lengthAdjust="spacingAndGlyphs" >April</text><text x="38.67" y="563.82" font-size="2.97" fill="#a598f6" textLength="5.25" lengthAdjust="spacingAndGlyphs" >May</text><text x="38.41" y="573.02" font-size="2.97" fill="#a598f6" textLength="5.78" lengthAdjust="spacingAndGlyphs" >June</text><text x="38.67" y="582.22" font-size="2.97" fill="#a598f6" textLength="5.25" lengthAdjust="spacingAndGlyphs" >July</text><text x="37.10" y="591.42" font-size="2.97" fill="#a598f6" textLength="8.40" lengthAdjust="spacingAndGlyphs" >August</text><text x="35.52" y="600.62" font-size="2.97" fill="#a598f6" textLength="11.55" lengthAdjust="spacingAndGlyphs" >September</text><text x="36.57" y="609.82" font-size="2.97" fill="#a598f6" textLength="9.45" lengthAdjust="spacingAndGlyphs" >October</text><text x="35.52" y="619.02" font-size="2.97" fill="#a598f6" textLength="11.55" lengthAdjust="spacingAndGlyphs" >November</text><text x="35.52" y="628.22" font-size="2.97" fill="#a598f6" textLength="11.55" lengthAdjust="spacingAndGlyphs" >December</text><text x="60.10" y="526.40" font-size="6.83" font-weight="bold" fill="#111" stroke="#111" stroke-width="0.15" textLength="70.50" lengthAdjust="spacingAndGlyphs" >Task list for the April 06th.</text><text x="60.10" y="531.41" font-size="2.70" fill="#333" textLength="36.70" lengthAdjust="spacingAndGlyphs" >Short tasks description goes here</text><rect x="57.30" y="536.00" width="117.90" height="104.60" rx="0.8" fill="#fff" filter="url(#cs)"/><rect x="61.20" y="539.20" width="110.50" height="8.80" rx="1.5" fill="#7e6cee" /><rect x="62.60" y="539.50" width="6.80" height="8.30" rx="2" fill="#2a14a2" /><rect x="164.40" y="539.50" width="6.80" height="8.30" rx="2" fill="#2a14a2" /><text x="65.47" y="544.70" font-size="3.20" fill="#fff" >‹</text><text x="167.07" y="544.70" font-size="3.20" fill="#fff" >›</text><text x="104.80" y="545.30" font-size="4.94" fill="#ece8ff" textLength="23.40" lengthAdjust="spacingAndGlyphs" >April - 2021</text><rect x="63.70" y="553.60" width="9.60" height="5.00" rx="0.8" fill="#efeff3" /><text x="65.65" y="557.10" font-size="3.05" font-weight="bold" fill="#444" textLength="5.70" lengthAdjust="spacingAndGlyphs" >Sun</text><rect x="79.70" y="553.60" width="9.60" height="5.00" rx="0.8" fill="#efeff3" /><text x="81.65" y="557.10" font-size="3.05" font-weight="bold" fill="#444" textLength="5.70" lengthAdjust="spacingAndGlyphs" >Mon</text><rect x="95.80" y="553.60" width="9.60" height="5.00" rx="0.8" fill="#efeff3" /><text x="97.75" y="557.10" font-size="3.05" font-weight="bold" fill="#444" textLength="5.70" lengthAdjust="spacingAndGlyphs" >Tue</text><rect x="111.60" y="553.60" width="9.60" height="5.00" rx="0.8" fill="#efeff3" /><text x="113.55" y="557.10" font-size="3.05" font-weight="bold" fill="#444" textLength="5.70" lengthAdjust="spacingAndGlyphs" >Wed</text><rect x="127.50" y="553.60" width="9.60" height="5.00" rx="0.8" fill="#efeff3" /><text x="129.45" y="557.10" font-size="3.05" font-weight="bold" fill="#444" textLength="5.70" lengthAdjust="spacingAndGlyphs" >Thu</text><rect x="143.30" y="553.60" width="9.60" height="5.00" rx="0.8" fill="#efeff3" /><text x="145.25" y="557.10" font-size="3.05" font-weight="bold" fill="#444" textLength="5.70" lengthAdjust="spacingAndGlyphs" >Fri</text><rect x="159.20" y="553.60" width="9.60" height="5.00" rx="0.8" fill="#efeff3" /><text x="161.15" y="557.10" font-size="3.05" font-weight="bold" fill="#444" textLength="5.70" lengthAdjust="spacingAndGlyphs" >Sat</text><text x="131.41" y="569.10" font-size="3.20" fill="#333" stroke="#333" stroke-width="0.03" >1</text><text x="147.21" y="569.10" font-size="3.20" fill="#333" stroke="#333" stroke-width="0.03" >2</text><text x="163.11" y="569.10" font-size="3.20" fill="#333" stroke="#333" stroke-width="0.03" >3</text><text x="67.61" y="580.35" font-size="3.20" fill="#333" stroke="#333" stroke-width="0.03" >4</text><text x="83.61" y="580.35" font-size="3.20" fill="#333" stroke="#333" stroke-width="0.03" >5</text><rect x="96.10" y="575.25" width="9.00" height="8.00" rx="1" fill="#7e6cee" filter="url(#ps)"/><text x="99.63" y="580.45" font-size="3.49" fill="#fff" stroke="#fff" stroke-width="0.15" >6</text><text x="115.51" y="580.35" font-size="3.20" fill="#333" stroke="#333" stroke-width="0.03" >7</text><text x="131.41" y="580.35" font-size="3.20" fill="#333" stroke="#333" stroke-width="0.03" >8</text><text x="147.21" y="580.35" font-size="3.20" fill="#333" stroke="#333" stroke-width="0.03" >9</text><text x="162.22" y="580.35" font-size="3.20" fill="#333" stroke="#333" stroke-width="0.03" >10</text><text x="66.84" y="591.60" font-size="3.20" fill="#333" stroke="#333" stroke-width="0.03" >11</text><text x="82.72" y="591.10" font-size="3.20" fill="#d0d0d8" >12</text><circle cx="83.40" cy="593.10" r="0.90" fill="#111" stroke="none" stroke-width="1" /><text x="98.82" y="591.60" font-size="3.20" fill="#333" stroke="#333" stroke-width="0.03" >13</text><text x="114.62" y="591.60" font-size="3.20" fill="#333" stroke="#333" stroke-width="0.03" >14</text><text x="130.52" y="591.60" font-size="3.20" fill="#333" stroke="#333" stroke-width="0.03" >15</text><text x="146.32" y="591.60" font-size="3.20" fill="#333" stroke="#333" stroke-width="0.03" >16</text><text x="162.22" y="591.60" font-size="3.20" fill="#333" stroke="#333" stroke-width="0.03" >17</text><text x="66.72" y="602.85" font-size="3.20" fill="#333" stroke="#333" stroke-width="0.03" >18</text><text x="82.72" y="602.85" font-size="3.20" fill="#333" stroke="#333" stroke-width="0.03" >19</text><text x="98.82" y="602.85" font-size="3.20" fill="#333" stroke="#333" stroke-width="0.03" >20</text><text x="114.62" y="602.85" font-size="3.20" fill="#333" stroke="#333" stroke-width="0.03" >21</text><text x="130.52" y="602.85" font-size="3.20" fill="#333" stroke="#333" stroke-width="0.03" >22</text><text x="146.32" y="602.85" font-size="3.20" fill="#333" stroke="#333" stroke-width="0.03" >23</text><text x="162.22" y="602.85" font-size="3.20" fill="#333" stroke="#333" stroke-width="0.03" >24</text><text x="66.72" y="614.10" font-size="3.20" fill="#333" stroke="#333" stroke-width="0.03" >25</text><text x="82.72" y="614.10" font-size="3.20" fill="#333" stroke="#333" stroke-width="0.03" >26</text><text x="98.82" y="614.10" font-size="3.20" fill="#333" stroke="#333" stroke-width="0.03" >27</text><text x="114.62" y="614.10" font-size="3.20" fill="#333" stroke="#333" stroke-width="0.03" >28</text><text x="130.52" y="614.10" font-size="3.20" fill="#333" stroke="#333" stroke-width="0.03" >29</text><text x="146.32" y="614.10" font-size="3.20" fill="#333" stroke="#333" stroke-width="0.03" >30</text><circle cx="63.10" cy="635.40" r="1.50" fill="#111" stroke="none" stroke-width="1" /><text x="65.50" y="636.35" font-size="2.62" fill="#666" textLength="12.00" lengthAdjust="spacingAndGlyphs" >Add Events</text><rect x="80.50" y="633.20" width="23.00" height="4.40" rx="0.8" fill="#f3f3f6" /><rect x="83.20" y="634.40" width="2.20" height="2.00" rx="0" fill="none" stroke="#bbb" stroke-width="0.4"/><text x="87.50" y="636.35" font-size="2.62" fill="#777" textLength="14.00" lengthAdjust="spacingAndGlyphs" >Hide Events</text><rect x="179.10" y="536.70" width="78.90" height="103.00" rx="0.8" fill="#fff" filter="url(#cs)"/><circle cx="219.40" cy="565.60" r="21.40" fill="#fff" stroke="#222" stroke-width="1.3" /><line x1="219.40" y1="546.40" x2="219.40" y2="545.40" stroke="#333" stroke-width="0.8" /><line x1="229.20" y1="548.63" x2="229.50" y2="548.11" stroke="#bbb" stroke-width="0.4" /><line x1="236.37" y1="555.80" x2="236.89" y2="555.50" stroke="#bbb" stroke-width="0.4" /><line x1="238.60" y1="565.60" x2="239.60" y2="565.60" stroke="#333" stroke-width="0.8" /><line x1="236.37" y1="575.40" x2="236.89" y2="575.70" stroke="#bbb" stroke-width="0.4" /><line x1="229.20" y1="582.57" x2="229.50" y2="583.09" stroke="#bbb" stroke-width="0.4" /><line x1="219.40" y1="584.80" x2="219.40" y2="585.80" stroke="#333" stroke-width="0.8" /><line x1="209.60" y1="582.57" x2="209.30" y2="583.09" stroke="#bbb" stroke-width="0.4" /><line x1="202.43" y1="575.40" x2="201.91" y2="575.70" stroke="#bbb" stroke-width="0.4" /><line x1="200.20" y1="565.60" x2="199.20" y2="565.60" stroke="#333" stroke-width="0.8" /><line x1="202.43" y1="555.80" x2="201.91" y2="555.50" stroke="#bbb" stroke-width="0.4" /><line x1="209.60" y1="548.63" x2="209.30" y2="548.11" stroke="#bbb" stroke-width="0.4" /><line x1="219.40" y1="565.60" x2="219.40" y2="550.60" stroke="#7665e0" stroke-width="1.3" stroke-linecap="round"/><line x1="219.40" y1="565.60" x2="208.30" y2="569.70" stroke="#7665e0" stroke-width="1.7" stroke-linecap="round"/><circle cx="219.40" cy="565.60" r="2.40" fill="#fff" stroke="#7665e0" stroke-width="1" /><circle cx="187.60" cy="598.90" r="3.30" fill="#fff" stroke="#c0b8f0" stroke-width="0.8" /><circle cx="187.60" cy="598.90" r="1.10" fill="#9a8ee8" stroke="none" stroke-width="1" /><text x="195.70" y="597.10" font-size="3.05" font-weight="bold" fill="#333" textLength="28.20" lengthAdjust="spacingAndGlyphs" >Task description</text><text x="230.60" y="596.50" font-size="4.51" font-weight="bold" fill="#222" stroke="#222" stroke-width="0.10" textLength="22.90" lengthAdjust="spacingAndGlyphs" >08.00 AM</text><text x="195.70" y="601.27" font-size="2.18" fill="#b4b4bc" textLength="57.80" lengthAdjust="spacingAndGlyphs" >Lorem ipsum dolor sit amet consectetur adipiscing elit sed do eiusmod tempor</text><text x="195.70" y="603.62" font-size="2.18" fill="#b4b4bc" textLength="57.80" lengthAdjust="spacingAndGlyphs" >Lorem ipsum dolor sit amet consectetur adipiscing elit sed do eiusmod tempor</text><text x="195.70" y="605.98" font-size="2.18" fill="#b4b4bc" textLength="57.80" lengthAdjust="spacingAndGlyphs" >Lorem ipsum dolor sit amet consectetur adipiscing elit sed do eiusmod tempor</text><text x="195.70" y="608.32" font-size="2.18" fill="#b4b4bc" textLength="57.80" lengthAdjust="spacingAndGlyphs" >Lorem ipsum dolor sit amet consectetur adipiscing elit sed do eiusmod tempor</text><text x="195.70" y="610.67" font-size="2.18" fill="#b4b4bc" textLength="57.80" lengthAdjust="spacingAndGlyphs" >Lorem ipsum dolor sit amet consectetur adipiscing elit sed do eiusmod tempor</text><text x="195.70" y="613.02" font-size="2.18" fill="#b4b4bc" textLength="57.80" lengthAdjust="spacingAndGlyphs" >Lorem ipsum dolor sit amet consectetur adipiscing elit sed do eiusmod tempor</text><text x="195.70" y="615.38" font-size="2.18" fill="#b4b4bc" textLength="57.80" lengthAdjust="spacingAndGlyphs" >Lorem ipsum dolor sit amet consectetur adipiscing elit sed do eiusmod tempor</text><text x="195.70" y="617.73" font-size="2.18" fill="#b4b4bc" textLength="57.80" lengthAdjust="spacingAndGlyphs" >Lorem ipsum dolor sit amet consectetur adipiscing elit sed do eiusmod tempor</text><text x="195.70" y="620.07" font-size="2.18" fill="#b4b4bc" textLength="57.80" lengthAdjust="spacingAndGlyphs" >Lorem ipsum dolor sit amet consectetur adipiscing elit sed do eiusmod tempor</text><text x="195.70" y="622.42" font-size="2.18" fill="#b4b4bc" textLength="40.00" lengthAdjust="spacingAndGlyphs" >incididunt ut labore et dolore</text><text x="205.40" y="633.30" font-size="2.91" fill="#888" textLength="30.30" lengthAdjust="spacingAndGlyphs" >Mo Tu Tasks accessories</text><rect x="239.40" y="629.60" width="6.00" height="5.90" rx="1" fill="#7e6cee" /><rect x="247.90" y="629.60" width="5.90" height="5.90" rx="1" fill="#7e6cee" /></g></g><rect x="295.00" y="510.00" width="244.00" height="138.00" rx="0" fill="#f3f6fa" filter="url(#ts)"/><rect x="295.25" y="510.25" width="243.50" height="137.50" rx="0" fill="none" stroke="#e2e4ea" stroke-width="0.5"/><g clip-path="url(#c231)"><g filter="url(#bl)"><rect x="300.80" y="513.50" width="2.20" height="2.20" rx="0" fill="#9a9aaa" /><rect x="301.50" y="516.50" width="1.20" height="1.40" rx="0" fill="#777" /><circle cx="529.00" cy="514.00" r="0.75" fill="#555" stroke="none" stroke-width="1" /><circle cx="531.80" cy="514.00" r="0.75" fill="#555" stroke="none" stroke-width="1" /><circle cx="534.60" cy="514.00" r="0.75" fill="#555" stroke="none" stroke-width="1" /><line x1="299.00" y1="563.80" x2="299.00" y2="588.00" stroke="#7c82a0" stroke-width="0.7" stroke-dasharray="1.2 0.5" opacity="0.6"/><text x="300.10" y="643.74" font-size="2.44" fill="#5b5f80" textLength="25.50" lengthAdjust="spacingAndGlyphs" >www.yourwebsite.com</text><rect x="303.40" y="520.00" width="25.70" height="118.90" rx="2.6" fill="#7e6cee" filter="url(#ps)"/><text x="311.57" y="527.02" font-size="2.97" fill="#a598f6" textLength="9.45" lengthAdjust="spacingAndGlyphs" >January</text><text x="311.05" y="536.22" font-size="2.97" fill="#a598f6" textLength="10.50" lengthAdjust="spacingAndGlyphs" >February</text><text x="312.62" y="545.42" font-size="2.97" fill="#a598f6" textLength="7.35" lengthAdjust="spacingAndGlyphs" >March</text><text x="313.15" y="554.62" font-size="2.97" fill="#a598f6" textLength="6.30" lengthAdjust="spacingAndGlyphs" >April</text><rect x="305.60" y="560.30" width="20.20" height="5.00" rx="2.5" fill="#2a1a8a" /><text x="313.68" y="563.88" font-size="3.14" fill="#fff" textLength="5.25" lengthAdjust="spacingAndGlyphs" >May</text><text x="313.41" y="573.02" font-size="2.97" fill="#a598f6" textLength="5.78" lengthAdjust="spacingAndGlyphs" >June</text><text x="313.68" y="582.22" font-size="2.97" fill="#a598f6" textLength="5.25" lengthAdjust="spacingAndGlyphs" >July</text><text x="312.10" y="591.42" font-size="2.97" fill="#a598f6" textLength="8.40" lengthAdjust="spacingAndGlyphs" >August</text><text x="310.53" y="600.62" font-size="2.97" fill="#a598f6" textLength="11.55" lengthAdjust="spacingAndGlyphs" >September</text><text x="311.57" y="609.82" font-size="2.97" fill="#a598f6" textLength="9.45" lengthAdjust="spacingAndGlyphs" >October</text><text x="310.53" y="619.02" font-size="2.97" fill="#a598f6" textLength="11.55" lengthAdjust="spacingAndGlyphs" >November</text><text x="310.53" y="628.22" font-size="2.97" fill="#a598f6" textLength="11.55" lengthAdjust="spacingAndGlyphs" >December</text><text x="335.10" y="526.40" font-size="6.83" font-weight="bold" fill="#111" stroke="#111" stroke-width="0.15" textLength="91.60" lengthAdjust="spacingAndGlyphs" >Daily sales analysis for May 2021.</text><text x="335.10" y="531.41" font-size="2.70" fill="#333" textLength="36.70" lengthAdjust="spacingAndGlyphs" >Short tasks description goes here</text><rect x="332.30" y="536.00" width="117.90" height="104.60" rx="0.8" fill="#fff" filter="url(#cs)"/><rect x="336.20" y="539.20" width="110.50" height="8.80" rx="1.5" fill="#7e6cee" /><rect x="337.60" y="539.50" width="6.80" height="8.30" rx="2" fill="#2a14a2" /><rect x="439.40" y="539.50" width="6.80" height="8.30" rx="2" fill="#2a14a2" /><text x="340.47" y="544.70" font-size="3.20" fill="#fff" >‹</text><text x="442.07" y="544.70" font-size="3.20" fill="#fff" >›</text><text x="381.75" y="545.30" font-size="4.94" fill="#ece8ff" textLength="19.50" lengthAdjust="spacingAndGlyphs" >May - 2021</text><rect x="338.70" y="553.60" width="9.60" height="5.00" rx="0.8" fill="#efeff3" /><text x="340.65" y="557.10" font-size="3.05" font-weight="bold" fill="#444" textLength="5.70" lengthAdjust="spacingAndGlyphs" >Sun</text><rect x="354.70" y="553.60" width="9.60" height="5.00" rx="0.8" fill="#efeff3" /><text x="356.65" y="557.10" font-size="3.05" font-weight="bold" fill="#444" textLength="5.70" lengthAdjust="spacingAndGlyphs" >Mon</text><rect x="370.80" y="553.60" width="9.60" height="5.00" rx="0.8" fill="#efeff3" /><text x="372.75" y="557.10" font-size="3.05" font-weight="bold" fill="#444" textLength="5.70" lengthAdjust="spacingAndGlyphs" >Tue</text><rect x="386.60" y="553.60" width="9.60" height="5.00" rx="0.8" fill="#efeff3" /><text x="388.55" y="557.10" font-size="3.05" font-weight="bold" fill="#444" textLength="5.70" lengthAdjust="spacingAndGlyphs" >Wed</text><rect x="402.50" y="553.60" width="9.60" height="5.00" rx="0.8" fill="#efeff3" /><text x="404.45" y="557.10" font-size="3.05" font-weight="bold" fill="#444" textLength="5.70" lengthAdjust="spacingAndGlyphs" >Thu</text><rect x="418.30" y="553.60" width="9.60" height="5.00" rx="0.8" fill="#efeff3" /><text x="420.25" y="557.10" font-size="3.05" font-weight="bold" fill="#444" textLength="5.70" lengthAdjust="spacingAndGlyphs" >Fri</text><rect x="434.20" y="553.60" width="9.60" height="5.00" rx="0.8" fill="#efeff3" /><text x="436.15" y="557.10" font-size="3.05" font-weight="bold" fill="#444" textLength="5.70" lengthAdjust="spacingAndGlyphs" >Sat</text><text x="438.11" y="569.10" font-size="3.20" fill="#333" stroke="#333" stroke-width="0.03" >1</text><text x="342.61" y="580.35" font-size="3.20" fill="#333" stroke="#333" stroke-width="0.03" >2</text><text x="358.61" y="580.35" font-size="3.20" fill="#333" stroke="#333" stroke-width="0.03" >3</text><text x="374.71" y="580.35" font-size="3.20" fill="#333" stroke="#333" stroke-width="0.03" >4</text><text x="390.51" y="580.35" font-size="3.20" fill="#333" stroke="#333" stroke-width="0.03" >5</text><text x="406.41" y="580.35" font-size="3.20" fill="#333" stroke="#333" stroke-width="0.03" >6</text><text x="422.21" y="580.35" font-size="3.20" fill="#333" stroke="#333" stroke-width="0.03" >7</text><text x="438.11" y="580.35" font-size="3.20" fill="#333" stroke="#333" stroke-width="0.03" >8</text><text x="342.61" y="591.60" font-size="3.20" fill="#333" stroke="#333" stroke-width="0.03" >9</text><text x="357.72" y="591.10" font-size="3.20" fill="#d0d0d8" >10</text><circle cx="358.40" cy="593.10" r="0.90" fill="#111" stroke="none" stroke-width="1" /><text x="373.94" y="591.60" font-size="3.20" fill="#333" stroke="#333" stroke-width="0.03" >11</text><text x="389.62" y="591.60" font-size="3.20" fill="#333" stroke="#333" stroke-width="0.03" >12</text><text x="405.52" y="591.60" font-size="3.20" fill="#333" stroke="#333" stroke-width="0.03" >13</text><text x="421.32" y="591.60" font-size="3.20" fill="#333" stroke="#333" stroke-width="0.03" >14</text><text x="437.22" y="591.60" font-size="3.20" fill="#333" stroke="#333" stroke-width="0.03" >15</text><text x="341.72" y="602.85" font-size="3.20" fill="#333" stroke="#333" stroke-width="0.03" >16</text><text x="357.72" y="602.85" font-size="3.20" fill="#333" stroke="#333" stroke-width="0.03" >17</text><text x="373.82" y="602.85" font-size="3.20" fill="#333" stroke="#333" stroke-width="0.03" >18</text><text x="389.62" y="602.85" font-size="3.20" fill="#333" stroke="#333" stroke-width="0.03" >19</text><text x="405.52" y="602.85" font-size="3.20" fill="#333" stroke="#333" stroke-width="0.03" >20</text><text x="421.32" y="602.85" font-size="3.20" fill="#333" stroke="#333" stroke-width="0.03" >21</text><text x="437.22" y="602.85" font-size="3.20" fill="#333" stroke="#333" stroke-width="0.03" >22</text><text x="341.72" y="614.10" font-size="3.20" fill="#333" stroke="#333" stroke-width="0.03" >23</text><text x="357.72" y="614.10" font-size="3.20" fill="#333" stroke="#333" stroke-width="0.03" >24</text><text x="373.82" y="614.10" font-size="3.20" fill="#333" stroke="#333" stroke-width="0.03" >25</text><text x="389.62" y="614.10" font-size="3.20" fill="#333" stroke="#333" stroke-width="0.03" >26</text><text x="405.52" y="614.10" font-size="3.20" fill="#333" stroke="#333" stroke-width="0.03" >27</text><text x="421.32" y="614.10" font-size="3.20" fill="#333" stroke="#333" stroke-width="0.03" >28</text><text x="437.22" y="614.10" font-size="3.20" fill="#333" stroke="#333" stroke-width="0.03" >29</text><text x="341.72" y="625.35" font-size="3.20" fill="#333" stroke="#333" stroke-width="0.03" >30</text><text x="357.72" y="625.35" font-size="3.20" fill="#333" stroke="#333" stroke-width="0.03" >31</text><circle cx="338.10" cy="635.40" r="1.50" fill="#111" stroke="none" stroke-width="1" /><text x="340.50" y="636.35" font-size="2.62" fill="#666" textLength="12.00" lengthAdjust="spacingAndGlyphs" >Add Events</text><rect x="355.50" y="633.20" width="23.00" height="4.40" rx="0.8" fill="#f3f3f6" /><rect x="358.20" y="634.40" width="2.20" height="2.00" rx="0" fill="none" stroke="#bbb" stroke-width="0.4"/><text x="362.50" y="636.35" font-size="2.62" fill="#777" textLength="14.00" lengthAdjust="spacingAndGlyphs" >Hide Events</text><rect x="454.60" y="536.70" width="77.90" height="54.10" rx="0.8" fill="#fff" filter="url(#cs)"/><text x="473.55" y="544.00" font-size="3.20" fill="#2a2a60" textLength="39.30" lengthAdjust="spacingAndGlyphs" >Daily sales analysis chart</text><text x="465.20" y="553.70" font-size="1.74" fill="#c8c8d2" textLength="56.00" lengthAdjust="spacingAndGlyphs" >1 2 3 4 5 6 7 8 9 10 11 12 13 14 15</text><text x="460.60" y="556.99" font-size="1.57" fill="#c0c0cc" textLength="3.60" lengthAdjust="spacingAndGlyphs" >1000</text><text x="460.60" y="562.59" font-size="1.57" fill="#c0c0cc" textLength="3.60" lengthAdjust="spacingAndGlyphs" >1000</text><text x="460.60" y="568.19" font-size="1.57" fill="#c0c0cc" textLength="3.60" lengthAdjust="spacingAndGlyphs" >1000</text><text x="460.60" y="573.79" font-size="1.57" fill="#c0c0cc" textLength="3.60" lengthAdjust="spacingAndGlyphs" >1000</text><text x="460.60" y="579.39" font-size="1.57" fill="#c0c0cc" textLength="3.60" lengthAdjust="spacingAndGlyphs" >1000</text><text x="460.60" y="584.99" font-size="1.57" fill="#c0c0cc" textLength="3.60" lengthAdjust="spacingAndGlyphs" >1000</text><rect x="466.34" y="585.59" width="1.80" height="1.41" rx="0" fill="#8a7cdc" /><rect x="468.56" y="584.11" width="1.80" height="2.89" rx="0" fill="#b4aaee" /><rect x="470.78" y="581.88" width="1.80" height="5.12" rx="0" fill="#b4aaee" /><rect x="473.01" y="575.21" width="1.80" height="11.79" rx="0" fill="#8a7cdc" /><rect x="475.23" y="580.40" width="1.80" height="6.60" rx="0" fill="#b4aaee" /><rect x="476.71" y="583.36" width="1.80" height="3.64" rx="0" fill="#b4aaee" /><rect x="478.94" y="572.99" width="1.80" height="14.01" rx="0" fill="#8a7cdc" /><rect x="480.42" y="570.02" width="1.80" height="16.98" rx="0" fill="#b4aaee" /><rect x="482.64" y="581.14" width="1.80" height="5.86" rx="0" fill="#b4aaee" /><rect x="484.86" y="578.92" width="1.80" height="8.08" rx="0" fill="#8a7cdc" /><rect x="486.35" y="570.02" width="1.80" height="16.98" rx="0" fill="#b4aaee" /><rect x="487.83" y="567.06" width="1.80" height="19.94" rx="0" fill="#b4aaee" /><rect x="490.05" y="572.99" width="1.80" height="14.01" rx="0" fill="#8a7cdc" /><rect x="492.28" y="570.02" width="1.80" height="16.98" rx="0" fill="#b4aaee" /><rect x="493.76" y="574.47" width="1.80" height="12.53" rx="0" fill="#b4aaee" /><rect x="495.24" y="575.21" width="1.80" height="11.79" rx="0" fill="#8a7cdc" /><rect x="497.46" y="575.95" width="1.80" height="11.05" rx="0" fill="#b4aaee" /><rect x="499.69" y="580.40" width="1.80" height="6.60" rx="0" fill="#b4aaee" /><rect x="501.91" y="570.02" width="1.80" height="16.98" rx="0" fill="#8a7cdc" /><rect x="503.39" y="572.25" width="1.80" height="14.75" rx="0" fill="#b4aaee" /><rect x="505.62" y="574.47" width="1.80" height="12.53" rx="0" fill="#b4aaee" /><rect x="507.10" y="582.62" width="1.80" height="4.38" rx="0" fill="#8a7cdc" /><rect x="509.32" y="567.06" width="1.80" height="19.94" rx="0" fill="#b4aaee" /><rect x="511.55" y="564.84" width="1.80" height="22.16" rx="0" fill="#b4aaee" /><rect x="513.77" y="561.87" width="1.80" height="25.13" rx="0" fill="#e070a8" /><rect x="515.99" y="567.80" width="1.80" height="19.20" rx="0" fill="#b4aaee" /><rect x="518.22" y="575.95" width="1.80" height="11.05" rx="0" fill="#b4aaee" /><rect x="520.44" y="572.99" width="1.80" height="14.01" rx="0" fill="#8a7cdc" /><rect x="522.67" y="577.44" width="1.80" height="9.56" rx="0" fill="#b4aaee" /><rect x="524.15" y="580.40" width="1.80" height="6.60" rx="0" fill="#b4aaee" /><rect x="457.20" y="594.50" width="73.00" height="45.20" rx="1.5" fill="#7e6cee" filter="url(#ps)"/><circle cx="491.70" cy="615.70" r="9.20" fill="none" stroke="#fff" stroke-width="1.6" /><path d="M480.72,623.39 A13.40,13.40 0 0 1 501.66,606.73" fill="none" stroke="#fff" stroke-width="2.6" stroke-linecap="round"/><text x="488.20" y="617.00" font-size="3.78" font-weight="bold" fill="#fff" stroke="#fff" stroke-width="0.10" textLength="7.00" lengthAdjust="spacingAndGlyphs" >64%</text><text x="479.00" y="635.40" font-size="2.91" fill="#ece8ff" textLength="28.00" lengthAdjust="spacingAndGlyphs" >Customer service process</text></g></g><rect x="570.00" y="510.00" width="244.00" height="138.00" rx="0" fill="#f3f6fa" filter="url(#ts)"/><rect x="570.25" y="510.25" width="243.50" height="137.50" rx="0" fill="none" stroke="#e2e4ea" stroke-width="0.5"/><g clip-path="url(#c232)"><g filter="url(#bl)"><rect x="576.20" y="513.50" width="2.20" height="2.20" rx="0" fill="#9a9aaa" /><rect x="576.90" y="516.50" width="1.20" height="1.40" rx="0" fill="#777" /><circle cx="804.40" cy="514.00" r="0.75" fill="#555" stroke="none" stroke-width="1" /><circle cx="807.20" cy="514.00" r="0.75" fill="#555" stroke="none" stroke-width="1" /><circle cx="810.00" cy="514.00" r="0.75" fill="#555" stroke="none" stroke-width="1" /><line x1="574.40" y1="563.80" x2="574.40" y2="588.00" stroke="#7c82a0" stroke-width="0.7" stroke-dasharray="1.2 0.5" opacity="0.6"/><text x="575.50" y="643.74" font-size="2.44" fill="#5b5f80" textLength="25.50" lengthAdjust="spacingAndGlyphs" >www.yourwebsite.com</text><rect x="578.80" y="520.00" width="25.70" height="118.90" rx="2.6" fill="#7e6cee" filter="url(#ps)"/><text x="586.97" y="527.02" font-size="2.97" fill="#a598f6" textLength="9.45" lengthAdjust="spacingAndGlyphs" >January</text><text x="586.45" y="536.22" font-size="2.97" fill="#a598f6" textLength="10.50" lengthAdjust="spacingAndGlyphs" >February</text><text x="588.02" y="545.42" font-size="2.97" fill="#a598f6" textLength="7.35" lengthAdjust="spacingAndGlyphs" >March</text><text x="588.55" y="554.62" font-size="2.97" fill="#a598f6" textLength="6.30" lengthAdjust="spacingAndGlyphs" >April</text><text x="589.07" y="563.82" font-size="2.97" fill="#a598f6" textLength="5.25" lengthAdjust="spacingAndGlyphs" >May</text><rect x="581.00" y="569.50" width="20.20" height="5.00" rx="2.5" fill="#2a1a8a" /><text x="588.81" y="573.08" font-size="3.14" fill="#fff" textLength="5.78" lengthAdjust="spacingAndGlyphs" >June</text><text x="589.07" y="582.22" font-size="2.97" fill="#a598f6" textLength="5.25" lengthAdjust="spacingAndGlyphs" >July</text><text x="587.50" y="591.42" font-size="2.97" fill="#a598f6" textLength="8.40" lengthAdjust="spacingAndGlyphs" >August</text><text x="585.92" y="600.62" font-size="2.97" fill="#a598f6" textLength="11.55" lengthAdjust="spacingAndGlyphs" >September</text><text x="586.97" y="609.82" font-size="2.97" fill="#a598f6" textLength="9.45" lengthAdjust="spacingAndGlyphs" >October</text><text x="585.92" y="619.02" font-size="2.97" fill="#a598f6" textLength="11.55" lengthAdjust="spacingAndGlyphs" >November</text><text x="585.92" y="628.22" font-size="2.97" fill="#a598f6" textLength="11.55" lengthAdjust="spacingAndGlyphs" >December</text><text x="610.50" y="526.40" font-size="6.83" font-weight="bold" fill="#111" stroke="#111" stroke-width="0.15" textLength="90.60" lengthAdjust="spacingAndGlyphs" >Daily summary for June 8th 2021.</text><text x="610.50" y="531.41" font-size="2.70" fill="#333" textLength="36.70" lengthAdjust="spacingAndGlyphs" >Short tasks description goes here</text><rect x="607.70" y="536.00" width="117.90" height="104.60" rx="0.8" fill="#fff" filter="url(#cs)"/><rect x="611.60" y="539.20" width="110.50" height="8.80" rx="1.5" fill="#7e6cee" /><rect x="613.00" y="539.50" width="6.80" height="8.30" rx="2" fill="#2a14a2" /><rect x="714.80" y="539.50" width="6.80" height="8.30" rx="2" fill="#2a14a2" /><text x="615.87" y="544.70" font-size="3.20" fill="#fff" >‹</text><text x="717.47" y="544.70" font-size="3.20" fill="#fff" >›</text><text x="656.17" y="545.30" font-size="4.94" fill="#ece8ff" textLength="21.45" lengthAdjust="spacingAndGlyphs" >June - 2021</text><rect x="614.10" y="553.60" width="9.60" height="5.00" rx="0.8" fill="#efeff3" /><text x="616.05" y="557.10" font-size="3.05" font-weight="bold" fill="#444" textLength="5.70" lengthAdjust="spacingAndGlyphs" >Sun</text><rect x="630.10" y="553.60" width="9.60" height="5.00" rx="0.8" fill="#efeff3" /><text x="632.05" y="557.10" font-size="3.05" font-weight="bold" fill="#444" textLength="5.70" lengthAdjust="spacingAndGlyphs" >Mon</text><rect x="646.20" y="553.60" width="9.60" height="5.00" rx="0.8" fill="#efeff3" /><text x="648.15" y="557.10" font-size="3.05" font-weight="bold" fill="#444" textLength="5.70" lengthAdjust="spacingAndGlyphs" >Tue</text><rect x="662.00" y="553.60" width="9.60" height="5.00" rx="0.8" fill="#efeff3" /><text x="663.95" y="557.10" font-size="3.05" font-weight="bold" fill="#444" textLength="5.70" lengthAdjust="spacingAndGlyphs" >Wed</text><rect x="677.90" y="553.60" width="9.60" height="5.00" rx="0.8" fill="#efeff3" /><text x="679.85" y="557.10" font-size="3.05" font-weight="bold" fill="#444" textLength="5.70" lengthAdjust="spacingAndGlyphs" >Thu</text><rect x="693.70" y="553.60" width="9.60" height="5.00" rx="0.8" fill="#efeff3" /><text x="695.65" y="557.10" font-size="3.05" font-weight="bold" fill="#444" textLength="5.70" lengthAdjust="spacingAndGlyphs" >Fri</text><rect x="709.60" y="553.60" width="9.60" height="5.00" rx="0.8" fill="#efeff3" /><text x="711.55" y="557.10" font-size="3.05" font-weight="bold" fill="#444" textLength="5.70" lengthAdjust="spacingAndGlyphs" >Sat</text><text x="650.11" y="569.10" font-size="3.20" fill="#333" stroke="#333" stroke-width="0.03" >1</text><text x="665.91" y="569.10" font-size="3.20" fill="#333" stroke="#333" stroke-width="0.03" >2</text><text x="681.81" y="569.10" font-size="3.20" fill="#333" stroke="#333" stroke-width="0.03" >3</text><text x="697.61" y="569.10" font-size="3.20" fill="#333" stroke="#333" stroke-width="0.03" >4</text><text x="713.51" y="569.10" font-size="3.20" fill="#333" stroke="#333" stroke-width="0.03" >5</text><text x="618.01" y="580.35" font-size="3.20" fill="#333" stroke="#333" stroke-width="0.03" >6</text><text x="634.01" y="580.35" font-size="3.20" fill="#333" stroke="#333" stroke-width="0.03" >7</text><rect x="646.50" y="575.25" width="9.00" height="8.00" rx="1" fill="#7e6cee" filter="url(#ps)"/><text x="650.03" y="580.45" font-size="3.49" fill="#fff" stroke="#fff" stroke-width="0.15" >8</text><text x="665.91" y="580.35" font-size="3.20" fill="#333" stroke="#333" stroke-width="0.03" >9</text><text x="680.92" y="580.35" font-size="3.20" fill="#333" stroke="#333" stroke-width="0.03" >10</text><text x="696.84" y="580.35" font-size="3.20" fill="#333" stroke="#333" stroke-width="0.03" >11</text><text x="712.62" y="580.35" font-size="3.20" fill="#333" stroke="#333" stroke-width="0.03" >12</text><text x="617.12" y="591.60" font-size="3.20" fill="#333" stroke="#333" stroke-width="0.03" >13</text><text x="633.12" y="591.10" font-size="3.20" fill="#d0d0d8" >14</text><circle cx="633.80" cy="593.10" r="0.90" fill="#111" stroke="none" stroke-width="1" /><text x="649.22" y="591.60" font-size="3.20" fill="#333" stroke="#333" stroke-width="0.03" >15</text><text x="665.02" y="591.60" font-size="3.20" fill="#333" stroke="#333" stroke-width="0.03" >16</text><text x="680.92" y="591.60" font-size="3.20" fill="#333" stroke="#333" stroke-width="0.03" >17</text><text x="696.72" y="591.60" font-size="3.20" fill="#333" stroke="#333" stroke-width="0.03" >18</text><text x="712.62" y="591.60" font-size="3.20" fill="#333" stroke="#333" stroke-width="0.03" >19</text><text x="617.12" y="602.85" font-size="3.20" fill="#333" stroke="#333" stroke-width="0.03" >20</text><text x="633.12" y="602.85" font-size="3.20" fill="#333" stroke="#333" stroke-width="0.03" >21</text><text x="649.22" y="602.85" font-size="3.20" fill="#333" stroke="#333" stroke-width="0.03" >22</text><text x="665.02" y="602.85" font-size="3.20" fill="#333" stroke="#333" stroke-width="0.03" >23</text><text x="680.92" y="602.85" font-size="3.20" fill="#333" stroke="#333" stroke-width="0.03" >24</text><text x="696.72" y="602.85" font-size="3.20" fill="#333" stroke="#333" stroke-width="0.03" >25</text><text x="712.62" y="602.85" font-size="3.20" fill="#333" stroke="#333" stroke-width="0.03" >26</text><text x="617.12" y="614.10" font-size="3.20" fill="#333" stroke="#333" stroke-width="0.03" >27</text><text x="633.12" y="614.10" font-size="3.20" fill="#333" stroke="#333" stroke-width="0.03" >28</text><text x="649.22" y="614.10" font-size="3.20" fill="#333" stroke="#333" stroke-width="0.03" >29</text><text x="665.02" y="614.10" font-size="3.20" fill="#333" stroke="#333" stroke-width="0.03" >30</text><circle cx="613.50" cy="635.40" r="1.50" fill="#111" stroke="none" stroke-width="1" /><text x="615.90" y="636.35" font-size="2.62" fill="#666" textLength="12.00" lengthAdjust="spacingAndGlyphs" >Add Events</text><rect x="630.90" y="633.20" width="23.00" height="4.40" rx="0.8" fill="#f3f3f6" /><rect x="633.60" y="634.40" width="2.20" height="2.00" rx="0" fill="none" stroke="#bbb" stroke-width="0.4"/><text x="637.90" y="636.35" font-size="2.62" fill="#777" textLength="14.00" lengthAdjust="spacingAndGlyphs" >Hide Events</text><rect x="732.60" y="538.20" width="71.60" height="16.70" rx="1.2" fill="url(#gC1)" filter="url(#cs)"/><text x="737.00" y="547.50" font-size="6.54" font-weight="bold" fill="#fff" stroke="#fff" stroke-width="0.14" textLength="26.00" lengthAdjust="spacingAndGlyphs" >250,000$</text><text x="737.00" y="551.54" font-size="2.44" fill="#e6e0ff" textLength="26.00" lengthAdjust="spacingAndGlyphs" opacity="0.8">Total revenue in this month</text><path d="M795.5,542.5 l1.2,0 l1.3,3.8 l4,0 l1,-2.6 l-5.4,0" fill="none" stroke="#fff" stroke-width="0.6" /><circle cx="798.40" cy="547.40" r="0.55" fill="#fff" stroke="none" stroke-width="1" /><circle cx="801.60" cy="547.40" r="0.55" fill="#fff" stroke="none" stroke-width="1" /><rect x="732.60" y="558.90" width="71.60" height="16.30" rx="1.2" fill="url(#gC2)" filter="url(#cs)"/><text x="737.00" y="568.20" font-size="6.54" font-weight="bold" fill="#fff" stroke="#fff" stroke-width="0.14" textLength="22.00" lengthAdjust="spacingAndGlyphs" >150,000</text><text x="737.00" y="572.24" font-size="2.44" fill="#e6e0ff" textLength="26.00" lengthAdjust="spacingAndGlyphs" opacity="0.8">Total revenue in this month</text><path d="M795.5,563.1999999999999 l1.2,0 l1.3,3.8 l4,0 l1,-2.6 l-5.4,0" fill="none" stroke="#fff" stroke-width="0.6" /><circle cx="798.40" cy="568.10" r="0.55" fill="#fff" stroke="none" stroke-width="1" /><circle cx="801.60" cy="568.10" r="0.55" fill="#fff" stroke="none" stroke-width="1" /><rect x="732.60" y="578.90" width="71.60" height="16.60" rx="1.2" fill="url(#gC3)" filter="url(#cs)"/><text x="737.00" y="588.20" font-size="6.54" font-weight="bold" fill="#fff" stroke="#fff" stroke-width="0.14" textLength="18.50" lengthAdjust="spacingAndGlyphs" >50,000</text><text x="737.00" y="592.24" font-size="2.44" fill="#e6e0ff" textLength="26.00" lengthAdjust="spacingAndGlyphs" opacity="0.8">Total revenue in this month</text><path d="M795.5,583.1999999999999 l1.2,0 l1.3,3.8 l4,0 l1,-2.6 l-5.4,0" fill="none" stroke="#fff" stroke-width="0.6" /><circle cx="798.40" cy="588.10" r="0.55" fill="#fff" stroke="none" stroke-width="1" /><circle cx="801.60" cy="588.10" r="0.55" fill="#fff" stroke="none" stroke-width="1" /><rect x="732.60" y="599.40" width="71.60" height="16.60" rx="1.2" fill="url(#gC4)" filter="url(#cs)"/><text x="737.00" y="608.70" font-size="6.54" font-weight="bold" fill="#fff" stroke="#fff" stroke-width="0.14" textLength="18.50" lengthAdjust="spacingAndGlyphs" >50,000</text><text x="737.00" y="612.74" font-size="2.44" fill="#e6e0ff" textLength="26.00" lengthAdjust="spacingAndGlyphs" opacity="0.8">Total revenue in this month</text><path d="M795.5,603.6999999999999 l1.2,0 l1.3,3.8 l4,0 l1,-2.6 l-5.4,0" fill="none" stroke="#fff" stroke-width="0.6" /><circle cx="798.40" cy="608.60" r="0.55" fill="#fff" stroke="none" stroke-width="1" /><circle cx="801.60" cy="608.60" r="0.55" fill="#fff" stroke="none" stroke-width="1" /><rect x="732.60" y="619.70" width="71.60" height="16.70" rx="1.2" fill="url(#gC5)" filter="url(#cs)"/><text x="737.00" y="629.00" font-size="6.54" font-weight="bold" fill="#fff" stroke="#fff" stroke-width="0.14" textLength="18.50" lengthAdjust="spacingAndGlyphs" >50,000</text><text x="737.00" y="633.04" font-size="2.44" fill="#e6e0ff" textLength="26.00" lengthAdjust="spacingAndGlyphs" opacity="0.8">Total revenue in this month</text><path d="M795.5,624.0 l1.2,0 l1.3,3.8 l4,0 l1,-2.6 l-5.4,0" fill="none" stroke="#fff" stroke-width="0.6" /><circle cx="798.40" cy="628.90" r="0.55" fill="#fff" stroke="none" stroke-width="1" /><circle cx="801.60" cy="628.90" r="0.55" fill="#fff" stroke="none" stroke-width="1" /></g></g><rect x="19.00" y="679.50" width="244.00" height="138.00" rx="0" fill="#f3f6fa" filter="url(#ts)"/><rect x="19.25" y="679.75" width="243.50" height="137.50" rx="0" fill="none" stroke="#e2e4ea" stroke-width="0.5"/><g clip-path="url(#c233)"><g filter="url(#bl)"><rect x="25.20" y="683.20" width="2.20" height="2.20" rx="0" fill="#9a9aaa" /><rect x="25.90" y="686.20" width="1.20" height="1.40" rx="0" fill="#777" /><circle cx="253.40" cy="683.70" r="0.75" fill="#555" stroke="none" stroke-width="1" /><circle cx="256.20" cy="683.70" r="0.75" fill="#555" stroke="none" stroke-width="1" /><circle cx="259.00" cy="683.70" r="0.75" fill="#555" stroke="none" stroke-width="1" /><line x1="23.40" y1="733.50" x2="23.40" y2="757.70" stroke="#7c82a0" stroke-width="0.7" stroke-dasharray="1.2 0.5" opacity="0.6"/><text x="24.50" y="813.44" font-size="2.44" fill="#5b5f80" textLength="25.50" lengthAdjust="spacingAndGlyphs" >www.yourwebsite.com</text><rect x="27.80" y="689.70" width="25.70" height="118.90" rx="2.6" fill="#7e6cee" filter="url(#ps)"/><text x="35.97" y="696.72" font-size="2.97" fill="#a598f6" textLength="9.45" lengthAdjust="spacingAndGlyphs" >January</text><text x="35.45" y="705.92" font-size="2.97" fill="#a598f6" textLength="10.50" lengthAdjust="spacingAndGlyphs" >February</text><text x="37.02" y="715.12" font-size="2.97" fill="#a598f6" textLength="7.35" lengthAdjust="spacingAndGlyphs" >March</text><text x="37.55" y="724.32" font-size="2.97" fill="#a598f6" textLength="6.30" lengthAdjust="spacingAndGlyphs" >April</text><text x="38.07" y="733.52" font-size="2.97" fill="#a598f6" textLength="5.25" lengthAdjust="spacingAndGlyphs" >May</text><text x="37.81" y="742.72" font-size="2.97" fill="#a598f6" textLength="5.78" lengthAdjust="spacingAndGlyphs" >June</text><text x="38.07" y="751.92" font-size="2.97" fill="#a598f6" textLength="5.25" lengthAdjust="spacingAndGlyphs" >July</text><text x="36.50" y="761.12" font-size="2.97" fill="#a598f6" textLength="8.40" lengthAdjust="spacingAndGlyphs" >August</text><text x="34.92" y="770.32" font-size="2.97" fill="#a598f6" textLength="11.55" lengthAdjust="spacingAndGlyphs" >September</text><rect x="30.00" y="776.00" width="20.20" height="5.00" rx="2.5" fill="#2a1a8a" /><text x="35.97" y="779.58" font-size="3.14" fill="#fff" textLength="9.45" lengthAdjust="spacingAndGlyphs" >October</text><text x="34.92" y="788.72" font-size="2.97" fill="#a598f6" textLength="11.55" lengthAdjust="spacingAndGlyphs" >November</text><text x="34.92" y="797.92" font-size="2.97" fill="#a598f6" textLength="11.55" lengthAdjust="spacingAndGlyphs" >December</text><text x="59.50" y="696.10" font-size="6.83" font-weight="bold" fill="#111" stroke="#111" stroke-width="0.15" textLength="108.20" lengthAdjust="spacingAndGlyphs" >Special event held on October 5th 2021.</text><text x="59.50" y="701.11" font-size="2.70" fill="#333" textLength="36.70" lengthAdjust="spacingAndGlyphs" >Short tasks description goes here</text><rect x="56.70" y="705.70" width="117.90" height="104.60" rx="0.8" fill="#fff" filter="url(#cs)"/><rect x="60.60" y="708.90" width="110.50" height="8.80" rx="1.5" fill="#7e6cee" /><rect x="62.00" y="709.20" width="6.80" height="8.30" rx="2" fill="#2a14a2" /><rect x="163.80" y="709.20" width="6.80" height="8.30" rx="2" fill="#2a14a2" /><text x="64.87" y="714.40" font-size="3.20" fill="#fff" >‹</text><text x="166.47" y="714.40" font-size="3.20" fill="#fff" >›</text><text x="102.25" y="715.00" font-size="4.94" fill="#ece8ff" textLength="27.30" lengthAdjust="spacingAndGlyphs" >October - 2021</text><rect x="63.10" y="723.30" width="9.60" height="5.00" rx="0.8" fill="#efeff3" /><text x="65.05" y="726.80" font-size="3.05" font-weight="bold" fill="#444" textLength="5.70" lengthAdjust="spacingAndGlyphs" >Sun</text><rect x="79.10" y="723.30" width="9.60" height="5.00" rx="0.8" fill="#efeff3" /><text x="81.05" y="726.80" font-size="3.05" font-weight="bold" fill="#444" textLength="5.70" lengthAdjust="spacingAndGlyphs" >Mon</text><rect x="95.20" y="723.30" width="9.60" height="5.00" rx="0.8" fill="#efeff3" /><text x="97.15" y="726.80" font-size="3.05" font-weight="bold" fill="#444" textLength="5.70" lengthAdjust="spacingAndGlyphs" >Tue</text><rect x="111.00" y="723.30" width="9.60" height="5.00" rx="0.8" fill="#efeff3" /><text x="112.95" y="726.80" font-size="3.05" font-weight="bold" fill="#444" textLength="5.70" lengthAdjust="spacingAndGlyphs" >Wed</text><rect x="126.90" y="723.30" width="9.60" height="5.00" rx="0.8" fill="#efeff3" /><text x="128.85" y="726.80" font-size="3.05" font-weight="bold" fill="#444" textLength="5.70" lengthAdjust="spacingAndGlyphs" >Thu</text><rect x="142.70" y="723.30" width="9.60" height="5.00" rx="0.8" fill="#efeff3" /><text x="144.65" y="726.80" font-size="3.05" font-weight="bold" fill="#444" textLength="5.70" lengthAdjust="spacingAndGlyphs" >Fri</text><rect x="158.60" y="723.30" width="9.60" height="5.00" rx="0.8" fill="#efeff3" /><text x="160.55" y="726.80" font-size="3.05" font-weight="bold" fill="#444" textLength="5.70" lengthAdjust="spacingAndGlyphs" >Sat</text><text x="146.61" y="738.80" font-size="3.20" fill="#333" stroke="#333" stroke-width="0.03" >1</text><text x="162.51" y="738.80" font-size="3.20" fill="#333" stroke="#333" stroke-width="0.03" >2</text><text x="67.01" y="750.05" font-size="3.20" fill="#333" stroke="#333" stroke-width="0.03" >3</text><text x="83.01" y="750.05" font-size="3.20" fill="#333" stroke="#333" stroke-width="0.03" >4</text><rect x="95.50" y="744.95" width="9.00" height="8.00" rx="1" fill="#7e6cee" filter="url(#ps)"/><text x="99.03" y="750.15" font-size="3.49" fill="#fff" stroke="#fff" stroke-width="0.15" >5</text><text x="114.91" y="750.05" font-size="3.20" fill="#333" stroke="#333" stroke-width="0.03" >6</text><text x="130.81" y="750.05" font-size="3.20" fill="#333" stroke="#333" stroke-width="0.03" >7</text><text x="146.61" y="750.05" font-size="3.20" fill="#333" stroke="#333" stroke-width="0.03" >8</text><text x="162.51" y="750.05" font-size="3.20" fill="#333" stroke="#333" stroke-width="0.03" >9</text><text x="66.12" y="761.30" font-size="3.20" fill="#333" stroke="#333" stroke-width="0.03" >10</text><text x="82.24" y="760.80" font-size="3.20" fill="#d0d0d8" >11</text><circle cx="82.80" cy="762.80" r="0.90" fill="#111" stroke="none" stroke-width="1" /><text x="98.22" y="761.30" font-size="3.20" fill="#333" stroke="#333" stroke-width="0.03" >12</text><text x="114.02" y="761.30" font-size="3.20" fill="#333" stroke="#333" stroke-width="0.03" >13</text><text x="129.92" y="761.30" font-size="3.20" fill="#333" stroke="#333" stroke-width="0.03" >14</text><text x="145.72" y="761.30" font-size="3.20" fill="#333" stroke="#333" stroke-width="0.03" >15</text><text x="161.62" y="761.30" font-size="3.20" fill="#333" stroke="#333" stroke-width="0.03" >16</text><text x="66.12" y="772.55" font-size="3.20" fill="#333" stroke="#333" stroke-width="0.03" >17</text><text x="82.12" y="772.55" font-size="3.20" fill="#333" stroke="#333" stroke-width="0.03" >18</text><text x="98.22" y="772.55" font-size="3.20" fill="#333" stroke="#333" stroke-width="0.03" >19</text><text x="114.02" y="772.55" font-size="3.20" fill="#333" stroke="#333" stroke-width="0.03" >20</text><text x="129.92" y="772.55" font-size="3.20" fill="#333" stroke="#333" stroke-width="0.03" >21</text><text x="145.72" y="772.55" font-size="3.20" fill="#333" stroke="#333" stroke-width="0.03" >22</text><text x="161.62" y="772.55" font-size="3.20" fill="#333" stroke="#333" stroke-width="0.03" >23</text><text x="66.12" y="783.80" font-size="3.20" fill="#333" stroke="#333" stroke-width="0.03" >24</text><text x="82.12" y="783.80" font-size="3.20" fill="#333" stroke="#333" stroke-width="0.03" >25</text><text x="98.22" y="783.80" font-size="3.20" fill="#333" stroke="#333" stroke-width="0.03" >26</text><text x="114.02" y="783.80" font-size="3.20" fill="#333" stroke="#333" stroke-width="0.03" >27</text><text x="129.92" y="783.80" font-size="3.20" fill="#333" stroke="#333" stroke-width="0.03" >28</text><text x="145.72" y="783.80" font-size="3.20" fill="#333" stroke="#333" stroke-width="0.03" >29</text><text x="161.62" y="783.80" font-size="3.20" fill="#333" stroke="#333" stroke-width="0.03" >30</text><text x="66.12" y="795.05" font-size="3.20" fill="#333" stroke="#333" stroke-width="0.03" >31</text><circle cx="62.50" cy="805.10" r="1.50" fill="#111" stroke="none" stroke-width="1" /><text x="64.90" y="806.05" font-size="2.62" fill="#666" textLength="12.00" lengthAdjust="spacingAndGlyphs" >Add Events</text><rect x="79.90" y="802.90" width="23.00" height="4.40" rx="0.8" fill="#f3f3f6" /><rect x="82.60" y="804.10" width="2.20" height="2.00" rx="0" fill="none" stroke="#bbb" stroke-width="0.4"/><text x="86.90" y="806.05" font-size="2.62" fill="#777" textLength="14.00" lengthAdjust="spacingAndGlyphs" >Hide Events</text><rect x="179.70" y="704.50" width="77.50" height="105.00" rx="0.8" fill="#fff" filter="url(#cs)"/><rect x="184.90" y="709.70" width="66.20" height="38.50" rx="1" fill="#d9d9d9" /><rect x="184.90" y="751.70" width="32.30" height="29.10" rx="1" fill="#d9d9d9" /><rect x="220.40" y="751.70" width="30.70" height="29.10" rx="1" fill="#d9d9d9" /><text x="185.30" y="787.90" font-size="3.05" font-weight="bold" fill="#333" textLength="34.70" lengthAdjust="spacingAndGlyphs" >Campaign influence here</text><text x="185.30" y="791.58" font-size="2.18" fill="#b0b0b8" textLength="65.80" lengthAdjust="spacingAndGlyphs" >Lorem ipsum dolor sit amet consectetur adipiscing elit sed do eiusmod tempor incididunt ut labore et dolore</text><text x="185.30" y="793.93" font-size="2.18" fill="#b0b0b8" textLength="65.80" lengthAdjust="spacingAndGlyphs" >Lorem ipsum dolor sit amet consectetur adipiscing elit sed do eiusmod tempor incididunt ut labore et dolore</text><text x="185.30" y="796.28" font-size="2.18" fill="#b0b0b8" textLength="65.80" lengthAdjust="spacingAndGlyphs" >Lorem ipsum dolor sit amet consectetur adipiscing elit sed do eiusmod tempor incididunt ut labore et dolore</text><text x="185.30" y="798.62" font-size="2.18" fill="#b0b0b8" textLength="65.80" lengthAdjust="spacingAndGlyphs" >Lorem ipsum dolor sit amet consectetur adipiscing elit sed do eiusmod tempor incididunt ut labore et dolore</text><text x="185.30" y="800.98" font-size="2.18" fill="#b0b0b8" textLength="65.80" lengthAdjust="spacingAndGlyphs" >Lorem ipsum dolor sit amet consectetur adipiscing elit sed do eiusmod tempor incididunt ut labore et dolore</text><text x="185.30" y="803.33" font-size="2.18" fill="#b0b0b8" textLength="12.00" lengthAdjust="spacingAndGlyphs" >dolore magna</text></g></g><rect x="295.00" y="679.50" width="244.00" height="138.00" rx="0" fill="#f3f6fa" filter="url(#ts)"/><rect x="295.25" y="679.75" width="243.50" height="137.50" rx="0" fill="none" stroke="#e2e4ea" stroke-width="0.5"/><g clip-path="url(#c234)"><g filter="url(#bl)"><rect x="300.80" y="683.20" width="2.20" height="2.20" rx="0" fill="#9a9aaa" /><rect x="301.50" y="686.20" width="1.20" height="1.40" rx="0" fill="#777" /><circle cx="529.00" cy="683.70" r="0.75" fill="#555" stroke="none" stroke-width="1" /><circle cx="531.80" cy="683.70" r="0.75" fill="#555" stroke="none" stroke-width="1" /><circle cx="534.60" cy="683.70" r="0.75" fill="#555" stroke="none" stroke-width="1" /><line x1="299.00" y1="733.50" x2="299.00" y2="757.70" stroke="#7c82a0" stroke-width="0.7" stroke-dasharray="1.2 0.5" opacity="0.6"/><text x="300.10" y="813.44" font-size="2.44" fill="#5b5f80" textLength="25.50" lengthAdjust="spacingAndGlyphs" >www.yourwebsite.com</text><rect x="303.40" y="689.70" width="25.70" height="118.90" rx="2.6" fill="#7e6cee" filter="url(#ps)"/><text x="311.57" y="696.72" font-size="2.97" fill="#a598f6" textLength="9.45" lengthAdjust="spacingAndGlyphs" >January</text><text x="311.05" y="705.92" font-size="2.97" fill="#a598f6" textLength="10.50" lengthAdjust="spacingAndGlyphs" >February</text><text x="312.62" y="715.12" font-size="2.97" fill="#a598f6" textLength="7.35" lengthAdjust="spacingAndGlyphs" >March</text><text x="313.15" y="724.32" font-size="2.97" fill="#a598f6" textLength="6.30" lengthAdjust="spacingAndGlyphs" >April</text><text x="313.68" y="733.52" font-size="2.97" fill="#a598f6" textLength="5.25" lengthAdjust="spacingAndGlyphs" >May</text><text x="313.41" y="742.72" font-size="2.97" fill="#a598f6" textLength="5.78" lengthAdjust="spacingAndGlyphs" >June</text><text x="313.68" y="751.92" font-size="2.97" fill="#a598f6" textLength="5.25" lengthAdjust="spacingAndGlyphs" >July</text><text x="312.10" y="761.12" font-size="2.97" fill="#a598f6" textLength="8.40" lengthAdjust="spacingAndGlyphs" >August</text><text x="310.53" y="770.32" font-size="2.97" fill="#a598f6" textLength="11.55" lengthAdjust="spacingAndGlyphs" >September</text><text x="311.57" y="779.52" font-size="2.97" fill="#a598f6" textLength="9.45" lengthAdjust="spacingAndGlyphs" >October</text><rect x="305.60" y="785.20" width="20.20" height="5.00" rx="2.5" fill="#2a1a8a" /><text x="310.53" y="788.78" font-size="3.14" fill="#fff" textLength="11.55" lengthAdjust="spacingAndGlyphs" >November</text><text x="310.53" y="797.92" font-size="2.97" fill="#a598f6" textLength="11.55" lengthAdjust="spacingAndGlyphs" >December</text><text x="335.10" y="696.10" font-size="6.83" font-weight="bold" fill="#111" stroke="#111" stroke-width="0.15" textLength="117.80" lengthAdjust="spacingAndGlyphs" >Special event held on November 10th 2021.</text><text x="335.10" y="701.11" font-size="2.70" fill="#333" textLength="36.70" lengthAdjust="spacingAndGlyphs" >Short tasks description goes here</text><rect x="332.30" y="705.70" width="117.90" height="104.60" rx="0.8" fill="#fff" filter="url(#cs)"/><rect x="336.20" y="708.90" width="110.50" height="8.80" rx="1.5" fill="#7e6cee" /><rect x="337.60" y="709.20" width="6.80" height="8.30" rx="2" fill="#2a14a2" /><rect x="439.40" y="709.20" width="6.80" height="8.30" rx="2" fill="#2a14a2" /><text x="340.47" y="714.40" font-size="3.20" fill="#fff" >‹</text><text x="442.07" y="714.40" font-size="3.20" fill="#fff" >›</text><text x="376.88" y="715.00" font-size="4.94" fill="#ece8ff" textLength="29.25" lengthAdjust="spacingAndGlyphs" >November - 2021</text><rect x="338.70" y="723.30" width="9.60" height="5.00" rx="0.8" fill="#efeff3" /><text x="340.65" y="726.80" font-size="3.05" font-weight="bold" fill="#444" textLength="5.70" lengthAdjust="spacingAndGlyphs" >Sun</text><rect x="354.70" y="723.30" width="9.60" height="5.00" rx="0.8" fill="#efeff3" /><text x="356.65" y="726.80" font-size="3.05" font-weight="bold" fill="#444" textLength="5.70" lengthAdjust="spacingAndGlyphs" >Mon</text><rect x="370.80" y="723.30" width="9.60" height="5.00" rx="0.8" fill="#efeff3" /><text x="372.75" y="726.80" font-size="3.05" font-weight="bold" fill="#444" textLength="5.70" lengthAdjust="spacingAndGlyphs" >Tue</text><rect x="386.60" y="723.30" width="9.60" height="5.00" rx="0.8" fill="#efeff3" /><text x="388.55" y="726.80" font-size="3.05" font-weight="bold" fill="#444" textLength="5.70" lengthAdjust="spacingAndGlyphs" >Wed</text><rect x="402.50" y="723.30" width="9.60" height="5.00" rx="0.8" fill="#efeff3" /><text x="404.45" y="726.80" font-size="3.05" font-weight="bold" fill="#444" textLength="5.70" lengthAdjust="spacingAndGlyphs" >Thu</text><rect x="418.30" y="723.30" width="9.60" height="5.00" rx="0.8" fill="#efeff3" /><text x="420.25" y="726.80" font-size="3.05" font-weight="bold" fill="#444" textLength="5.70" lengthAdjust="spacingAndGlyphs" >Fri</text><rect x="434.20" y="723.30" width="9.60" height="5.00" rx="0.8" fill="#efeff3" /><text x="436.15" y="726.80" font-size="3.05" font-weight="bold" fill="#444" textLength="5.70" lengthAdjust="spacingAndGlyphs" >Sat</text><text x="358.61" y="738.80" font-size="3.20" fill="#333" stroke="#333" stroke-width="0.03" >1</text><text x="374.71" y="738.80" font-size="3.20" fill="#333" stroke="#333" stroke-width="0.03" >2</text><text x="390.51" y="738.80" font-size="3.20" fill="#333" stroke="#333" stroke-width="0.03" >3</text><text x="406.41" y="738.80" font-size="3.20" fill="#333" stroke="#333" stroke-width="0.03" >4</text><text x="422.21" y="738.80" font-size="3.20" fill="#333" stroke="#333" stroke-width="0.03" >5</text><text x="438.11" y="738.80" font-size="3.20" fill="#333" stroke="#333" stroke-width="0.03" >6</text><text x="342.61" y="750.05" font-size="3.20" fill="#333" stroke="#333" stroke-width="0.03" >7</text><text x="358.61" y="750.05" font-size="3.20" fill="#333" stroke="#333" stroke-width="0.03" >8</text><text x="374.71" y="750.05" font-size="3.20" fill="#333" stroke="#333" stroke-width="0.03" >9</text><rect x="386.90" y="744.95" width="9.00" height="8.00" rx="1" fill="#7e6cee" filter="url(#ps)"/><text x="389.46" y="750.15" font-size="3.49" fill="#fff" stroke="#fff" stroke-width="0.15" >10</text><text x="405.64" y="750.05" font-size="3.20" fill="#333" stroke="#333" stroke-width="0.03" >11</text><text x="421.32" y="750.05" font-size="3.20" fill="#333" stroke="#333" stroke-width="0.03" >12</text><text x="437.22" y="750.05" font-size="3.20" fill="#333" stroke="#333" stroke-width="0.03" >13</text><text x="341.72" y="761.30" font-size="3.20" fill="#333" stroke="#333" stroke-width="0.03" >14</text><text x="357.72" y="760.80" font-size="3.20" fill="#d0d0d8" >15</text><circle cx="358.40" cy="762.80" r="0.90" fill="#111" stroke="none" stroke-width="1" /><text x="373.82" y="761.30" font-size="3.20" fill="#333" stroke="#333" stroke-width="0.03" >16</text><text x="389.62" y="761.30" font-size="3.20" fill="#333" stroke="#333" stroke-width="0.03" >17</text><text x="405.52" y="761.30" font-size="3.20" fill="#333" stroke="#333" stroke-width="0.03" >18</text><text x="421.32" y="761.30" font-size="3.20" fill="#333" stroke="#333" stroke-width="0.03" >19</text><text x="437.22" y="761.30" font-size="3.20" fill="#333" stroke="#333" stroke-width="0.03" >20</text><text x="341.72" y="772.55" font-size="3.20" fill="#333" stroke="#333" stroke-width="0.03" >21</text><text x="357.72" y="772.55" font-size="3.20" fill="#333" stroke="#333" stroke-width="0.03" >22</text><text x="373.82" y="772.55" font-size="3.20" fill="#333" stroke="#333" stroke-width="0.03" >23</text><text x="389.62" y="772.55" font-size="3.20" fill="#333" stroke="#333" stroke-width="0.03" >24</text><text x="405.52" y="772.55" font-size="3.20" fill="#333" stroke="#333" stroke-width="0.03" >25</text><text x="421.32" y="772.55" font-size="3.20" fill="#333" stroke="#333" stroke-width="0.03" >26</text><text x="437.22" y="772.55" font-size="3.20" fill="#333" stroke="#333" stroke-width="0.03" >27</text><text x="341.72" y="783.80" font-size="3.20" fill="#333" stroke="#333" stroke-width="0.03" >28</text><text x="357.72" y="783.80" font-size="3.20" fill="#333" stroke="#333" stroke-width="0.03" >29</text><text x="373.82" y="783.80" font-size="3.20" fill="#333" stroke="#333" stroke-width="0.03" >30</text><circle cx="338.10" cy="805.10" r="1.50" fill="#111" stroke="none" stroke-width="1" /><text x="340.50" y="806.05" font-size="2.62" fill="#666" textLength="12.00" lengthAdjust="spacingAndGlyphs" >Add Events</text><rect x="355.50" y="802.90" width="23.00" height="4.40" rx="0.8" fill="#f3f3f6" /><rect x="358.20" y="804.10" width="2.20" height="2.00" rx="0" fill="none" stroke="#bbb" stroke-width="0.4"/><text x="362.50" y="806.05" font-size="2.62" fill="#777" textLength="14.00" lengthAdjust="spacingAndGlyphs" >Hide Events</text><rect x="455.70" y="704.50" width="77.50" height="105.00" rx="0.8" fill="#fff" filter="url(#cs)"/><rect x="461.00" y="709.70" width="66.10" height="71.10" rx="1.2" fill="#d9d9d9" /><text x="461.30" y="787.90" font-size="3.05" font-weight="bold" fill="#333" textLength="34.70" lengthAdjust="spacingAndGlyphs" >Campaign influence here</text><text x="461.30" y="791.58" font-size="2.18" fill="#b0b0b8" textLength="65.80" lengthAdjust="spacingAndGlyphs" >Lorem ipsum dolor sit amet consectetur adipiscing elit sed do eiusmod tempor incididunt ut labore et dolore</text><text x="461.30" y="793.93" font-size="2.18" fill="#b0b0b8" textLength="65.80" lengthAdjust="spacingAndGlyphs" >Lorem ipsum dolor sit amet consectetur adipiscing elit sed do eiusmod tempor incididunt ut labore et dolore</text><text x="461.30" y="796.28" font-size="2.18" fill="#b0b0b8" textLength="65.80" lengthAdjust="spacingAndGlyphs" >Lorem ipsum dolor sit amet consectetur adipiscing elit sed do eiusmod tempor incididunt ut labore et dolore</text><text x="461.30" y="798.62" font-size="2.18" fill="#b0b0b8" textLength="65.80" lengthAdjust="spacingAndGlyphs" >Lorem ipsum dolor sit amet consectetur adipiscing elit sed do eiusmod tempor incididunt ut labore et dolore</text><text x="461.30" y="800.98" font-size="2.18" fill="#b0b0b8" textLength="65.80" lengthAdjust="spacingAndGlyphs" >Lorem ipsum dolor sit amet consectetur adipiscing elit sed do eiusmod tempor incididunt ut labore et dolore</text><text x="461.30" y="803.33" font-size="2.18" fill="#b0b0b8" textLength="12.00" lengthAdjust="spacingAndGlyphs" >dolore magna</text></g></g><rect x="570.00" y="679.50" width="244.00" height="138.00" rx="0" fill="#f3f6fa" filter="url(#ts)"/><rect x="570.25" y="679.75" width="243.50" height="137.50" rx="0" fill="none" stroke="#e2e4ea" stroke-width="0.5"/><g clip-path="url(#c235)"><g filter="url(#bl)"><rect x="576.20" y="683.20" width="2.20" height="2.20" rx="0" fill="#9a9aaa" /><rect x="576.90" y="686.20" width="1.20" height="1.40" rx="0" fill="#777" /><circle cx="804.40" cy="683.70" r="0.75" fill="#555" stroke="none" stroke-width="1" /><circle cx="807.20" cy="683.70" r="0.75" fill="#555" stroke="none" stroke-width="1" /><circle cx="810.00" cy="683.70" r="0.75" fill="#555" stroke="none" stroke-width="1" /><line x1="574.40" y1="733.50" x2="574.40" y2="757.70" stroke="#7c82a0" stroke-width="0.7" stroke-dasharray="1.2 0.5" opacity="0.6"/><text x="575.50" y="813.44" font-size="2.44" fill="#5b5f80" textLength="25.50" lengthAdjust="spacingAndGlyphs" >www.yourwebsite.com</text><rect x="578.80" y="689.70" width="25.70" height="118.90" rx="2.6" fill="#7e6cee" filter="url(#ps)"/><text x="586.97" y="696.72" font-size="2.97" fill="#a598f6" textLength="9.45" lengthAdjust="spacingAndGlyphs" >January</text><text x="586.45" y="705.92" font-size="2.97" fill="#a598f6" textLength="10.50" lengthAdjust="spacingAndGlyphs" >February</text><text x="588.02" y="715.12" font-size="2.97" fill="#a598f6" textLength="7.35" lengthAdjust="spacingAndGlyphs" >March</text><text x="588.55" y="724.32" font-size="2.97" fill="#a598f6" textLength="6.30" lengthAdjust="spacingAndGlyphs" >April</text><text x="589.07" y="733.52" font-size="2.97" fill="#a598f6" textLength="5.25" lengthAdjust="spacingAndGlyphs" >May</text><text x="588.81" y="742.72" font-size="2.97" fill="#a598f6" textLength="5.78" lengthAdjust="spacingAndGlyphs" >June</text><text x="589.07" y="751.92" font-size="2.97" fill="#a598f6" textLength="5.25" lengthAdjust="spacingAndGlyphs" >July</text><text x="587.50" y="761.12" font-size="2.97" fill="#a598f6" textLength="8.40" lengthAdjust="spacingAndGlyphs" >August</text><text x="585.92" y="770.32" font-size="2.97" fill="#a598f6" textLength="11.55" lengthAdjust="spacingAndGlyphs" >September</text><text x="586.97" y="779.52" font-size="2.97" fill="#a598f6" textLength="9.45" lengthAdjust="spacingAndGlyphs" >October</text><text x="585.92" y="788.72" font-size="2.97" fill="#a598f6" textLength="11.55" lengthAdjust="spacingAndGlyphs" >November</text><rect x="581.00" y="794.40" width="20.20" height="5.00" rx="2.5" fill="#2a1a8a" /><text x="585.92" y="797.98" font-size="3.14" fill="#fff" textLength="11.55" lengthAdjust="spacingAndGlyphs" >December</text><text x="610.50" y="696.10" font-size="6.83" font-weight="bold" fill="#111" stroke="#111" stroke-width="0.15" textLength="112.30" lengthAdjust="spacingAndGlyphs" >Special event held on December 7th 2021.</text><text x="610.50" y="701.11" font-size="2.70" fill="#333" textLength="36.70" lengthAdjust="spacingAndGlyphs" >Short tasks description goes here</text><rect x="607.70" y="705.70" width="117.90" height="104.60" rx="0.8" fill="#fff" filter="url(#cs)"/><rect x="611.60" y="708.90" width="110.50" height="8.80" rx="1.5" fill="#7e6cee" /><rect x="613.00" y="709.20" width="6.80" height="8.30" rx="2" fill="#2a14a2" /><rect x="714.80" y="709.20" width="6.80" height="8.30" rx="2" fill="#2a14a2" /><text x="615.87" y="714.40" font-size="3.20" fill="#fff" >‹</text><text x="717.47" y="714.40" font-size="3.20" fill="#fff" >›</text><text x="652.27" y="715.00" font-size="4.94" fill="#ece8ff" textLength="29.25" lengthAdjust="spacingAndGlyphs" >December - 2021</text><rect x="614.10" y="723.30" width="9.60" height="5.00" rx="0.8" fill="#efeff3" /><text x="616.05" y="726.80" font-size="3.05" font-weight="bold" fill="#444" textLength="5.70" lengthAdjust="spacingAndGlyphs" >Sun</text><rect x="630.10" y="723.30" width="9.60" height="5.00" rx="0.8" fill="#efeff3" /><text x="632.05" y="726.80" font-size="3.05" font-weight="bold" fill="#444" textLength="5.70" lengthAdjust="spacingAndGlyphs" >Mon</text><rect x="646.20" y="723.30" width="9.60" height="5.00" rx="0.8" fill="#efeff3" /><text x="648.15" y="726.80" font-size="3.05" font-weight="bold" fill="#444" textLength="5.70" lengthAdjust="spacingAndGlyphs" >Tue</text><rect x="662.00" y="723.30" width="9.60" height="5.00" rx="0.8" fill="#efeff3" /><text x="663.95" y="726.80" font-size="3.05" font-weight="bold" fill="#444" textLength="5.70" lengthAdjust="spacingAndGlyphs" >Wed</text><rect x="677.90" y="723.30" width="9.60" height="5.00" rx="0.8" fill="#efeff3" /><text x="679.85" y="726.80" font-size="3.05" font-weight="bold" fill="#444" textLength="5.70" lengthAdjust="spacingAndGlyphs" >Thu</text><rect x="693.70" y="723.30" width="9.60" height="5.00" rx="0.8" fill="#efeff3" /><text x="695.65" y="726.80" font-size="3.05" font-weight="bold" fill="#444" textLength="5.70" lengthAdjust="spacingAndGlyphs" >Fri</text><rect x="709.60" y="723.30" width="9.60" height="5.00" rx="0.8" fill="#efeff3" /><text x="711.55" y="726.80" font-size="3.05" font-weight="bold" fill="#444" textLength="5.70" lengthAdjust="spacingAndGlyphs" >Sat</text><text x="665.91" y="738.80" font-size="3.20" fill="#333" stroke="#333" stroke-width="0.03" >1</text><text x="681.81" y="738.80" font-size="3.20" fill="#333" stroke="#333" stroke-width="0.03" >2</text><text x="697.61" y="738.80" font-size="3.20" fill="#333" stroke="#333" stroke-width="0.03" >3</text><text x="713.51" y="738.80" font-size="3.20" fill="#333" stroke="#333" stroke-width="0.03" >4</text><text x="618.01" y="750.05" font-size="3.20" fill="#333" stroke="#333" stroke-width="0.03" >5</text><text x="634.01" y="750.05" font-size="3.20" fill="#333" stroke="#333" stroke-width="0.03" >6</text><rect x="646.50" y="744.95" width="9.00" height="8.00" rx="1" fill="#7e6cee" filter="url(#ps)"/><text x="650.03" y="750.15" font-size="3.49" fill="#fff" stroke="#fff" stroke-width="0.15" >7</text><text x="665.91" y="750.05" font-size="3.20" fill="#333" stroke="#333" stroke-width="0.03" >8</text><text x="681.81" y="750.05" font-size="3.20" fill="#333" stroke="#333" stroke-width="0.03" >9</text><text x="696.72" y="750.05" font-size="3.20" fill="#333" stroke="#333" stroke-width="0.03" >10</text><text x="712.74" y="750.05" font-size="3.20" fill="#333" stroke="#333" stroke-width="0.03" >11</text><text x="617.12" y="761.30" font-size="3.20" fill="#333" stroke="#333" stroke-width="0.03" >12</text><text x="633.12" y="760.80" font-size="3.20" fill="#d0d0d8" >13</text><circle cx="633.80" cy="762.80" r="0.90" fill="#111" stroke="none" stroke-width="1" /><text x="649.22" y="761.30" font-size="3.20" fill="#333" stroke="#333" stroke-width="0.03" >14</text><text x="665.02" y="761.30" font-size="3.20" fill="#333" stroke="#333" stroke-width="0.03" >15</text><text x="680.92" y="761.30" font-size="3.20" fill="#333" stroke="#333" stroke-width="0.03" >16</text><text x="696.72" y="761.30" font-size="3.20" fill="#333" stroke="#333" stroke-width="0.03" >17</text><text x="712.62" y="761.30" font-size="3.20" fill="#333" stroke="#333" stroke-width="0.03" >18</text><text x="617.12" y="772.55" font-size="3.20" fill="#333" stroke="#333" stroke-width="0.03" >19</text><text x="633.12" y="772.55" font-size="3.20" fill="#333" stroke="#333" stroke-width="0.03" >20</text><text x="649.22" y="772.55" font-size="3.20" fill="#333" stroke="#333" stroke-width="0.03" >21</text><text x="665.02" y="772.55" font-size="3.20" fill="#333" stroke="#333" stroke-width="0.03" >22</text><text x="680.92" y="772.55" font-size="3.20" fill="#333" stroke="#333" stroke-width="0.03" >23</text><text x="696.72" y="772.55" font-size="3.20" fill="#333" stroke="#333" stroke-width="0.03" >24</text><text x="712.62" y="772.55" font-size="3.20" fill="#333" stroke="#333" stroke-width="0.03" >25</text><text x="617.12" y="783.80" font-size="3.20" fill="#333" stroke="#333" stroke-width="0.03" >26</text><text x="633.12" y="783.80" font-size="3.20" fill="#333" stroke="#333" stroke-width="0.03" >27</text><text x="649.22" y="783.80" font-size="3.20" fill="#333" stroke="#333" stroke-width="0.03" >28</text><text x="665.02" y="783.80" font-size="3.20" fill="#333" stroke="#333" stroke-width="0.03" >29</text><text x="680.92" y="783.80" font-size="3.20" fill="#333" stroke="#333" stroke-width="0.03" >30</text><text x="696.72" y="783.80" font-size="3.20" fill="#333" stroke="#333" stroke-width="0.03" >31</text><circle cx="613.50" cy="805.10" r="1.50" fill="#111" stroke="none" stroke-width="1" /><text x="615.90" y="806.05" font-size="2.62" fill="#666" textLength="12.00" lengthAdjust="spacingAndGlyphs" >Add Events</text><rect x="630.90" y="802.90" width="23.00" height="4.40" rx="0.8" fill="#f3f3f6" /><rect x="633.60" y="804.10" width="2.20" height="2.00" rx="0" fill="none" stroke="#bbb" stroke-width="0.4"/><text x="637.90" y="806.05" font-size="2.62" fill="#777" textLength="14.00" lengthAdjust="spacingAndGlyphs" >Hide Events</text><rect x="731.50" y="706.00" width="75.60" height="103.50" rx="0.8" fill="#fff" filter="url(#cs)"/><rect x="733.20" y="708.70" width="71.30" height="92.90" rx="1.5" fill="#d9d9d9" /><text x="733.60" y="806.59" font-size="3.31" font-weight="bold" fill="#333" textLength="28.40" lengthAdjust="spacingAndGlyphs" >Event title goes here</text></g></g>
<rect x="0" y="0" width="823" height="8" fill="#fff"/>
<rect x="1" y="0" width="822" height="1.3" fill="#d2d2d2"/>
<rect x="1" y="8" width="3" height="156" fill="#e4f0f7"/>
<g filter="url(#bl2)"><text x="110.30" y="158.20" font-size="12.50" fill="#1e1e1e" stroke="#1e1e1e" stroke-width="0.30" textLength="69.00" lengthAdjust="spacingAndGlyphs" >Slide212.PNG</text><text x="385.50" y="158.20" font-size="12.50" fill="#1e1e1e" stroke="#1e1e1e" stroke-width="0.30" textLength="69.00" lengthAdjust="spacingAndGlyphs" >Slide213.PNG</text><text x="660.80" y="158.20" font-size="12.50" fill="#1e1e1e" stroke="#1e1e1e" stroke-width="0.30" textLength="69.00" lengthAdjust="spacingAndGlyphs" >Slide214.PNG</text><text x="110.30" y="327.60" font-size="12.50" fill="#1e1e1e" stroke="#1e1e1e" stroke-width="0.30" textLength="69.00" lengthAdjust="spacingAndGlyphs" >Slide218.PNG</text><text x="385.50" y="327.60" font-size="12.50" fill="#1e1e1e" stroke="#1e1e1e" stroke-width="0.30" textLength="69.00" lengthAdjust="spacingAndGlyphs" >Slide219.PNG</text><text x="660.80" y="327.60" font-size="12.50" fill="#1e1e1e" stroke="#1e1e1e" stroke-width="0.30" textLength="69.00" lengthAdjust="spacingAndGlyphs" >Slide220.PNG</text><text x="110.30" y="497.40" font-size="12.50" fill="#1e1e1e" stroke="#1e1e1e" stroke-width="0.30" textLength="69.00" lengthAdjust="spacingAndGlyphs" >Slide224.PNG</text><text x="385.50" y="497.40" font-size="12.50" fill="#1e1e1e" stroke="#1e1e1e" stroke-width="0.30" textLength="69.00" lengthAdjust="spacingAndGlyphs" >Slide225.PNG</text><text x="660.80" y="497.40" font-size="12.50" fill="#1e1e1e" stroke="#1e1e1e" stroke-width="0.30" textLength="69.00" lengthAdjust="spacingAndGlyphs" >Slide226.PNG</text><text x="110.30" y="666.60" font-size="12.50" fill="#1e1e1e" stroke="#1e1e1e" stroke-width="0.30" textLength="69.00" lengthAdjust="spacingAndGlyphs" >Slide230.PNG</text><text x="385.50" y="666.60" font-size="12.50" fill="#1e1e1e" stroke="#1e1e1e" stroke-width="0.30" textLength="69.00" lengthAdjust="spacingAndGlyphs" >Slide231.PNG</text><text x="660.80" y="666.60" font-size="12.50" fill="#1e1e1e" stroke="#1e1e1e" stroke-width="0.30" textLength="69.00" lengthAdjust="spacingAndGlyphs" >Slide232.PNG</text></g>
<g opacity="0.6" filter="url(#bl2)"><text x="561" y="712.2" font-size="36.3" font-weight="bold" fill="#3a3a3a" stroke="#3a3a3a" stroke-width="1.4" stroke-linejoin="round" textLength="194" lengthAdjust="spacingAndGlyphs">TECHMALL</text></g>
<defs><filter id="bl2"><feGaussianBlur stdDeviation="0.25"/></filter></defs>
</svg></body></html>
